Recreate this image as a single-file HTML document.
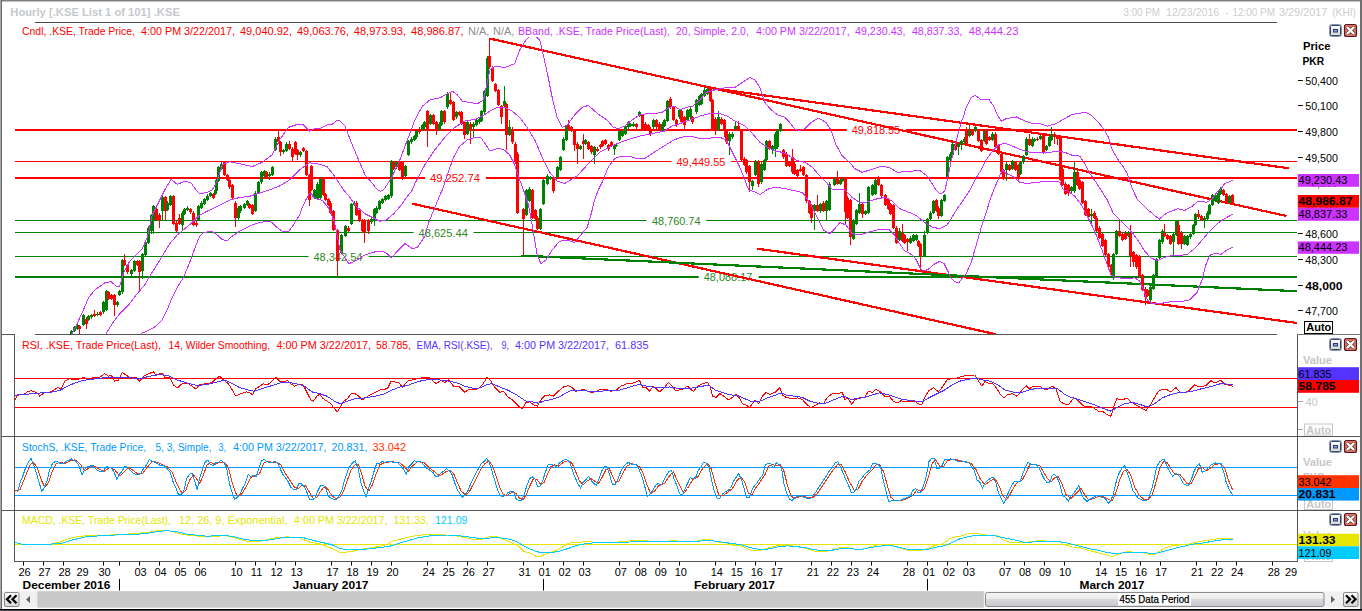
<!DOCTYPE html>
<html><head><meta charset="utf-8"><title>Chart</title>
<style>html,body{margin:0;padding:0;background:#fff;overflow:hidden}svg{display:block}text{font-family:"Liberation Sans", sans-serif;}</style>
</head><body>
<svg width="1362" height="611" viewBox="0 0 1362 611" font-family='"Liberation Sans", sans-serif'>
<rect x="0" y="0" width="1362" height="611" fill="#fff"/>
<defs><clipPath id="cm"><rect x="14.5" y="37" width="1283" height="297"/></clipPath><clipPath id="cr"><rect x="15" y="335" width="1282.5" height="101"/></clipPath><clipPath id="cs"><rect x="15" y="437" width="1282.5" height="73"/></clipPath><clipPath id="cd"><rect x="15" y="511" width="1282.5" height="50"/></clipPath></defs>
<g clip-path="url(#cm)">
<line x1="15" y1="130" x2="846.7" y2="130" stroke="#ff0000" stroke-width="2"/>
<line x1="905.9" y1="130" x2="1297" y2="130" stroke="#ff0000" stroke-width="2"/>
<text x="851.7" y="134.2" fill="#ff0000" font-size="11.5" textLength="48.5" lengthAdjust="spacingAndGlyphs">49,818.55</text>
<line x1="15" y1="161.5" x2="671.5" y2="161.5" stroke="#ff0000" stroke-width="1"/>
<line x1="731.2" y1="161.5" x2="1297" y2="161.5" stroke="#ff0000" stroke-width="1"/>
<text x="676.5" y="165.79999999999998" fill="#ff0000" font-size="11.5" textLength="48.9" lengthAdjust="spacingAndGlyphs">49,449.55</text>
<line x1="15" y1="178" x2="425" y2="178" stroke="#ff0000" stroke-width="2"/>
<line x1="486" y1="178" x2="1297" y2="178" stroke="#ff0000" stroke-width="2"/>
<text x="430" y="182.2" fill="#ff0000" font-size="11.5" textLength="50" lengthAdjust="spacingAndGlyphs">49,252.74</text>
<line x1="15" y1="220.5" x2="646.5" y2="220.5" stroke="#008000" stroke-width="1"/>
<line x1="706.2" y1="220.5" x2="1297" y2="220.5" stroke="#008000" stroke-width="1"/>
<text x="652" y="224.7" fill="#2e8a1e" font-size="11.5" textLength="48.5" lengthAdjust="spacingAndGlyphs">48,760.74</text>
<line x1="15" y1="232.5" x2="413.6" y2="232.5" stroke="#008000" stroke-width="1"/>
<line x1="473.5" y1="232.5" x2="1297" y2="232.5" stroke="#008000" stroke-width="1"/>
<text x="418.6" y="236.7" fill="#2e8a1e" font-size="11.5" textLength="49.2" lengthAdjust="spacingAndGlyphs">48,625.44</text>
<line x1="15" y1="256.5" x2="308.5" y2="256.5" stroke="#008000" stroke-width="1"/>
<line x1="368.7" y1="256.5" x2="1297" y2="256.5" stroke="#008000" stroke-width="1"/>
<text x="313.5" y="260.7" fill="#2e8a1e" font-size="11.5" textLength="49.0" lengthAdjust="spacingAndGlyphs">48,342.54</text>
<line x1="15" y1="277" x2="698.7" y2="277" stroke="#008000" stroke-width="2"/>
<line x1="758.6" y1="277" x2="1297" y2="277" stroke="#008000" stroke-width="2"/>
<text x="703.7" y="281.2" fill="#2e8a1e" font-size="11.5" textLength="48.7" lengthAdjust="spacingAndGlyphs">48,088.17</text>
<line x1="489.5" y1="38.5" x2="1286.5" y2="216.0" stroke="#ff0000" stroke-width="2.2" stroke-linecap="butt" shape-rendering="crispEdges"/>
<line x1="706.2" y1="87.3" x2="1289" y2="168.3" stroke="#ff0000" stroke-width="2.2" stroke-linecap="butt" shape-rendering="crispEdges"/>
<line x1="412.4" y1="203.7" x2="996" y2="334.3" stroke="#ff0000" stroke-width="2.2" stroke-linecap="butt" shape-rendering="crispEdges"/>
<line x1="757.4" y1="248.7" x2="1297" y2="323" stroke="#ff0000" stroke-width="2.2" stroke-linecap="butt" shape-rendering="crispEdges"/>
<line x1="521" y1="255.6" x2="1297" y2="291.2" stroke="#008000" stroke-width="2.2" stroke-linecap="butt" shape-rendering="crispEdges"/>
<rect x="70" y="331.1" width="3" height="2.5" fill="#008000" shape-rendering="crispEdges"/>
<rect x="71" y="329.9" width="1" height="4.9" fill="#008000" shape-rendering="crispEdges"/>
<rect x="73" y="327.1" width="3" height="4.0" fill="#008000" shape-rendering="crispEdges"/>
<rect x="74" y="325.9" width="1" height="6.4" fill="#008000" shape-rendering="crispEdges"/>
<rect x="76" y="324.6" width="3" height="4.0" fill="#008000" shape-rendering="crispEdges"/>
<rect x="77" y="323.4" width="1" height="6.4" fill="#008000" shape-rendering="crispEdges"/>
<rect x="78" y="326.1" width="3" height="2.5" fill="#ff0000" shape-rendering="crispEdges"/>
<rect x="79" y="324.9" width="1" height="8.7" fill="#ff0000" shape-rendering="crispEdges"/>
<rect x="82" y="314.8" width="3" height="10.0" fill="#008000" shape-rendering="crispEdges"/>
<rect x="83" y="313.6" width="1" height="12.4" fill="#008000" shape-rendering="crispEdges"/>
<rect x="85" y="318.6" width="3" height="5.0" fill="#ff0000" shape-rendering="crispEdges"/>
<rect x="86" y="317.4" width="1" height="11.2" fill="#ff0000" shape-rendering="crispEdges"/>
<rect x="87" y="316.1" width="3" height="3.7" fill="#008000" shape-rendering="crispEdges"/>
<rect x="88" y="314.9" width="1" height="6.1" fill="#008000" shape-rendering="crispEdges"/>
<rect x="90" y="314.8" width="3" height="2.5" fill="#008000" shape-rendering="crispEdges"/>
<rect x="91" y="313.6" width="1" height="4.9" fill="#008000" shape-rendering="crispEdges"/>
<rect x="93" y="313.6" width="3" height="2.5" fill="#ff0000" shape-rendering="crispEdges"/>
<rect x="94" y="309.8" width="1" height="7.4" fill="#ff0000" shape-rendering="crispEdges"/>
<rect x="96" y="313.6" width="3" height="1.2" fill="#008000" shape-rendering="crispEdges"/>
<rect x="97" y="312.4" width="1" height="3.6" fill="#008000" shape-rendering="crispEdges"/>
<rect x="99" y="312.3" width="3" height="2.5" fill="#ff0000" shape-rendering="crispEdges"/>
<rect x="100" y="311.1" width="1" height="4.9" fill="#ff0000" shape-rendering="crispEdges"/>
<rect x="102" y="302.4" width="3" height="10.0" fill="#008000" shape-rendering="crispEdges"/>
<rect x="103" y="301.2" width="1" height="12.4" fill="#008000" shape-rendering="crispEdges"/>
<rect x="105" y="291.1" width="3" height="18.7" fill="#008000" shape-rendering="crispEdges"/>
<rect x="106" y="289.9" width="1" height="21.1" fill="#008000" shape-rendering="crispEdges"/>
<rect x="107" y="292.4" width="3" height="6.2" fill="#ff0000" shape-rendering="crispEdges"/>
<rect x="108" y="291.2" width="1" height="8.6" fill="#ff0000" shape-rendering="crispEdges"/>
<rect x="110" y="294.9" width="3" height="3.7" fill="#ff0000" shape-rendering="crispEdges"/>
<rect x="111" y="293.7" width="1" height="6.1" fill="#ff0000" shape-rendering="crispEdges"/>
<rect x="113" y="294.9" width="3" height="10.0" fill="#ff0000" shape-rendering="crispEdges"/>
<rect x="114" y="293.7" width="1" height="22.4" fill="#ff0000" shape-rendering="crispEdges"/>
<rect x="116" y="302.4" width="3" height="2.5" fill="#008000" shape-rendering="crispEdges"/>
<rect x="117" y="301.2" width="1" height="6.2" fill="#008000" shape-rendering="crispEdges"/>
<rect x="118" y="291.1" width="3" height="3.7" fill="#008000" shape-rendering="crispEdges"/>
<rect x="119" y="289.9" width="1" height="6.1" fill="#008000" shape-rendering="crispEdges"/>
<rect x="121" y="259.9" width="3" height="32.5" fill="#008000" shape-rendering="crispEdges"/>
<rect x="122" y="258.7" width="1" height="34.9" fill="#008000" shape-rendering="crispEdges"/>
<rect x="123" y="259.9" width="3" height="5.0" fill="#ff0000" shape-rendering="crispEdges"/>
<rect x="124" y="253.7" width="1" height="12.4" fill="#ff0000" shape-rendering="crispEdges"/>
<rect x="126" y="264.9" width="3" height="7.5" fill="#ff0000" shape-rendering="crispEdges"/>
<rect x="127" y="263.7" width="1" height="9.9" fill="#ff0000" shape-rendering="crispEdges"/>
<rect x="130" y="269.9" width="3" height="3.7" fill="#008000" shape-rendering="crispEdges"/>
<rect x="131" y="268.7" width="1" height="7.4" fill="#008000" shape-rendering="crispEdges"/>
<rect x="133" y="261.2" width="3" height="10.0" fill="#008000" shape-rendering="crispEdges"/>
<rect x="134" y="260.0" width="1" height="12.4" fill="#008000" shape-rendering="crispEdges"/>
<rect x="136" y="261.2" width="3" height="3.5" fill="#ff0000" shape-rendering="crispEdges"/>
<rect x="137" y="260.0" width="1" height="5.9" fill="#ff0000" shape-rendering="crispEdges"/>
<rect x="138" y="261.2" width="3" height="11.2" fill="#ff0000" shape-rendering="crispEdges"/>
<rect x="139" y="260.0" width="1" height="32.4" fill="#ff0000" shape-rendering="crispEdges"/>
<rect x="141" y="253.7" width="3" height="17.5" fill="#008000" shape-rendering="crispEdges"/>
<rect x="142" y="252.5" width="1" height="26.2" fill="#008000" shape-rendering="crispEdges"/>
<rect x="144" y="242.4" width="3" height="12.5" fill="#008000" shape-rendering="crispEdges"/>
<rect x="145" y="241.2" width="1" height="14.9" fill="#008000" shape-rendering="crispEdges"/>
<rect x="147" y="227.5" width="3" height="15.0" fill="#008000" shape-rendering="crispEdges"/>
<rect x="148" y="226.3" width="1" height="17.4" fill="#008000" shape-rendering="crispEdges"/>
<rect x="150" y="215.0" width="3" height="16.2" fill="#008000" shape-rendering="crispEdges"/>
<rect x="151" y="213.8" width="1" height="19.9" fill="#008000" shape-rendering="crispEdges"/>
<rect x="152" y="206.3" width="3" height="13.7" fill="#008000" shape-rendering="crispEdges"/>
<rect x="153" y="205.1" width="1" height="28.7" fill="#008000" shape-rendering="crispEdges"/>
<rect x="155" y="208.7" width="3" height="11.2" fill="#ff0000" shape-rendering="crispEdges"/>
<rect x="156" y="207.5" width="1" height="13.6" fill="#ff0000" shape-rendering="crispEdges"/>
<rect x="158" y="214.7" width="3" height="5.0" fill="#ff0000" shape-rendering="crispEdges"/>
<rect x="159" y="212.5" width="1" height="15.0" fill="#ff0000" shape-rendering="crispEdges"/>
<rect x="161" y="197.0" width="3" height="14.2" fill="#008000" shape-rendering="crispEdges"/>
<rect x="162" y="195.8" width="1" height="25.4" fill="#008000" shape-rendering="crispEdges"/>
<rect x="164" y="197.0" width="3" height="14.2" fill="#ff0000" shape-rendering="crispEdges"/>
<rect x="165" y="195.8" width="1" height="24.2" fill="#ff0000" shape-rendering="crispEdges"/>
<rect x="166" y="202.5" width="3" height="7.5" fill="#008000" shape-rendering="crispEdges"/>
<rect x="167" y="201.3" width="1" height="9.9" fill="#008000" shape-rendering="crispEdges"/>
<rect x="169" y="196.3" width="3" height="8.7" fill="#008000" shape-rendering="crispEdges"/>
<rect x="170" y="194.5" width="1" height="11.7" fill="#008000" shape-rendering="crispEdges"/>
<rect x="172" y="196.3" width="3" height="27.5" fill="#ff0000" shape-rendering="crispEdges"/>
<rect x="173" y="195.1" width="1" height="29.9" fill="#ff0000" shape-rendering="crispEdges"/>
<rect x="175" y="222.5" width="3" height="8.7" fill="#ff0000" shape-rendering="crispEdges"/>
<rect x="176" y="221.3" width="1" height="11.1" fill="#ff0000" shape-rendering="crispEdges"/>
<rect x="178" y="217.5" width="3" height="6.2" fill="#ff0000" shape-rendering="crispEdges"/>
<rect x="179" y="213.7" width="1" height="11.2" fill="#ff0000" shape-rendering="crispEdges"/>
<rect x="181" y="212.5" width="3" height="12.5" fill="#008000" shape-rendering="crispEdges"/>
<rect x="182" y="211.3" width="1" height="19.9" fill="#008000" shape-rendering="crispEdges"/>
<rect x="183" y="208.7" width="3" height="5.0" fill="#008000" shape-rendering="crispEdges"/>
<rect x="184" y="207.5" width="1" height="7.4" fill="#008000" shape-rendering="crispEdges"/>
<rect x="186" y="207.5" width="3" height="2.5" fill="#008000" shape-rendering="crispEdges"/>
<rect x="187" y="205.5" width="1" height="5.7" fill="#008000" shape-rendering="crispEdges"/>
<rect x="189" y="208.7" width="3" height="3.7" fill="#ff0000" shape-rendering="crispEdges"/>
<rect x="190" y="207.5" width="1" height="6.1" fill="#ff0000" shape-rendering="crispEdges"/>
<rect x="192" y="212.5" width="3" height="12.5" fill="#ff0000" shape-rendering="crispEdges"/>
<rect x="193" y="211.3" width="1" height="14.9" fill="#ff0000" shape-rendering="crispEdges"/>
<rect x="195" y="222.5" width="3" height="2.5" fill="#ff0000" shape-rendering="crispEdges"/>
<rect x="196" y="221.3" width="1" height="5.7" fill="#ff0000" shape-rendering="crispEdges"/>
<rect x="197" y="206.3" width="3" height="13.7" fill="#008000" shape-rendering="crispEdges"/>
<rect x="198" y="205.1" width="1" height="16.1" fill="#008000" shape-rendering="crispEdges"/>
<rect x="200" y="202.5" width="3" height="5.0" fill="#008000" shape-rendering="crispEdges"/>
<rect x="201" y="201.3" width="1" height="7.4" fill="#008000" shape-rendering="crispEdges"/>
<rect x="203" y="198.8" width="3" height="5.0" fill="#008000" shape-rendering="crispEdges"/>
<rect x="204" y="197.6" width="1" height="7.4" fill="#008000" shape-rendering="crispEdges"/>
<rect x="206" y="195.5" width="3" height="4.5" fill="#008000" shape-rendering="crispEdges"/>
<rect x="207" y="194.3" width="1" height="6.9" fill="#008000" shape-rendering="crispEdges"/>
<rect x="209" y="193.0" width="3" height="3.2" fill="#008000" shape-rendering="crispEdges"/>
<rect x="210" y="191.8" width="1" height="5.6" fill="#008000" shape-rendering="crispEdges"/>
<rect x="212" y="193.8" width="3" height="3.7" fill="#ff0000" shape-rendering="crispEdges"/>
<rect x="213" y="192.6" width="1" height="6.1" fill="#ff0000" shape-rendering="crispEdges"/>
<rect x="214" y="190.0" width="3" height="3.7" fill="#008000" shape-rendering="crispEdges"/>
<rect x="215" y="188.8" width="1" height="6.1" fill="#008000" shape-rendering="crispEdges"/>
<rect x="215" y="179.8" width="3" height="11.2" fill="#008000" shape-rendering="crispEdges"/>
<rect x="216" y="178.6" width="1" height="13.6" fill="#008000" shape-rendering="crispEdges"/>
<rect x="217" y="167.3" width="3" height="13.7" fill="#008000" shape-rendering="crispEdges"/>
<rect x="218" y="166.1" width="1" height="16.1" fill="#008000" shape-rendering="crispEdges"/>
<rect x="220" y="163.6" width="3" height="5.0" fill="#008000" shape-rendering="crispEdges"/>
<rect x="221" y="162.4" width="1" height="7.4" fill="#008000" shape-rendering="crispEdges"/>
<rect x="223" y="162.3" width="3" height="12.5" fill="#ff0000" shape-rendering="crispEdges"/>
<rect x="224" y="161.1" width="1" height="14.9" fill="#ff0000" shape-rendering="crispEdges"/>
<rect x="226" y="174.8" width="3" height="5.0" fill="#ff0000" shape-rendering="crispEdges"/>
<rect x="227" y="173.6" width="1" height="7.4" fill="#ff0000" shape-rendering="crispEdges"/>
<rect x="228" y="179.8" width="3" height="7.5" fill="#ff0000" shape-rendering="crispEdges"/>
<rect x="229" y="178.6" width="1" height="9.9" fill="#ff0000" shape-rendering="crispEdges"/>
<rect x="231" y="184.8" width="3" height="12.7" fill="#ff0000" shape-rendering="crispEdges"/>
<rect x="232" y="183.6" width="1" height="15.1" fill="#ff0000" shape-rendering="crispEdges"/>
<rect x="234" y="202.5" width="3" height="15.0" fill="#ff0000" shape-rendering="crispEdges"/>
<rect x="235" y="201.3" width="1" height="25.7" fill="#ff0000" shape-rendering="crispEdges"/>
<rect x="237" y="207.5" width="3" height="10.0" fill="#008000" shape-rendering="crispEdges"/>
<rect x="238" y="206.3" width="1" height="14.9" fill="#008000" shape-rendering="crispEdges"/>
<rect x="239" y="206.3" width="3" height="5.0" fill="#008000" shape-rendering="crispEdges"/>
<rect x="240" y="205.1" width="1" height="7.4" fill="#008000" shape-rendering="crispEdges"/>
<rect x="243" y="203.8" width="3" height="3.7" fill="#008000" shape-rendering="crispEdges"/>
<rect x="244" y="202.6" width="1" height="6.1" fill="#008000" shape-rendering="crispEdges"/>
<rect x="246" y="201.3" width="3" height="3.7" fill="#008000" shape-rendering="crispEdges"/>
<rect x="247" y="200.1" width="1" height="6.1" fill="#008000" shape-rendering="crispEdges"/>
<rect x="248" y="203.8" width="3" height="3.7" fill="#ff0000" shape-rendering="crispEdges"/>
<rect x="249" y="202.6" width="1" height="6.1" fill="#ff0000" shape-rendering="crispEdges"/>
<rect x="251" y="205.0" width="3" height="8.7" fill="#ff0000" shape-rendering="crispEdges"/>
<rect x="252" y="203.8" width="1" height="11.1" fill="#ff0000" shape-rendering="crispEdges"/>
<rect x="254" y="192.5" width="3" height="18.7" fill="#008000" shape-rendering="crispEdges"/>
<rect x="255" y="191.3" width="1" height="21.1" fill="#008000" shape-rendering="crispEdges"/>
<rect x="257" y="182.3" width="3" height="10.2" fill="#008000" shape-rendering="crispEdges"/>
<rect x="258" y="181.1" width="1" height="12.6" fill="#008000" shape-rendering="crispEdges"/>
<rect x="260" y="172.3" width="3" height="10.0" fill="#008000" shape-rendering="crispEdges"/>
<rect x="261" y="171.1" width="1" height="12.4" fill="#008000" shape-rendering="crispEdges"/>
<rect x="263" y="171.1" width="3" height="5.0" fill="#008000" shape-rendering="crispEdges"/>
<rect x="264" y="169.9" width="1" height="7.4" fill="#008000" shape-rendering="crispEdges"/>
<rect x="265" y="172.3" width="3" height="5.0" fill="#ff0000" shape-rendering="crispEdges"/>
<rect x="266" y="171.1" width="1" height="7.4" fill="#ff0000" shape-rendering="crispEdges"/>
<rect x="268" y="173.5" width="3" height="2.5" fill="#008000" shape-rendering="crispEdges"/>
<rect x="269" y="172.3" width="1" height="7.4" fill="#008000" shape-rendering="crispEdges"/>
<rect x="271" y="166.8" width="3" height="8.0" fill="#008000" shape-rendering="crispEdges"/>
<rect x="272" y="165.6" width="1" height="10.4" fill="#008000" shape-rendering="crispEdges"/>
<rect x="274" y="138.6" width="3" height="11.2" fill="#008000" shape-rendering="crispEdges"/>
<rect x="275" y="137.4" width="1" height="13.6" fill="#008000" shape-rendering="crispEdges"/>
<rect x="277" y="137.4" width="3" height="5.0" fill="#ff0000" shape-rendering="crispEdges"/>
<rect x="278" y="129.9" width="1" height="13.7" fill="#ff0000" shape-rendering="crispEdges"/>
<rect x="279" y="142.3" width="3" height="10.0" fill="#ff0000" shape-rendering="crispEdges"/>
<rect x="280" y="141.1" width="1" height="14.9" fill="#ff0000" shape-rendering="crispEdges"/>
<rect x="282" y="149.8" width="3" height="2.5" fill="#008000" shape-rendering="crispEdges"/>
<rect x="283" y="148.6" width="1" height="5.7" fill="#008000" shape-rendering="crispEdges"/>
<rect x="285" y="143.6" width="3" height="7.5" fill="#008000" shape-rendering="crispEdges"/>
<rect x="286" y="142.4" width="1" height="9.9" fill="#008000" shape-rendering="crispEdges"/>
<rect x="288" y="143.6" width="3" height="5.0" fill="#ff0000" shape-rendering="crispEdges"/>
<rect x="289" y="141.1" width="1" height="8.7" fill="#ff0000" shape-rendering="crispEdges"/>
<rect x="291" y="148.6" width="3" height="8.7" fill="#ff0000" shape-rendering="crispEdges"/>
<rect x="292" y="147.4" width="1" height="13.7" fill="#ff0000" shape-rendering="crispEdges"/>
<rect x="294" y="142.3" width="3" height="11.2" fill="#ff0000" shape-rendering="crispEdges"/>
<rect x="295" y="141.1" width="1" height="13.6" fill="#ff0000" shape-rendering="crispEdges"/>
<rect x="296" y="149.8" width="3" height="5.0" fill="#ff0000" shape-rendering="crispEdges"/>
<rect x="297" y="148.6" width="1" height="11.2" fill="#ff0000" shape-rendering="crispEdges"/>
<rect x="299" y="152.3" width="3" height="2.5" fill="#008000" shape-rendering="crispEdges"/>
<rect x="300" y="151.1" width="1" height="6.2" fill="#008000" shape-rendering="crispEdges"/>
<rect x="302" y="147.8" width="3" height="3.2" fill="#ff0000" shape-rendering="crispEdges"/>
<rect x="303" y="146.6" width="1" height="5.6" fill="#ff0000" shape-rendering="crispEdges"/>
<rect x="305" y="151.1" width="3" height="23.7" fill="#ff0000" shape-rendering="crispEdges"/>
<rect x="306" y="149.9" width="1" height="26.1" fill="#ff0000" shape-rendering="crispEdges"/>
<rect x="308" y="174.8" width="3" height="25.2" fill="#ff0000" shape-rendering="crispEdges"/>
<rect x="309" y="173.6" width="1" height="32.7" fill="#ff0000" shape-rendering="crispEdges"/>
<rect x="310" y="166.1" width="3" height="23.7" fill="#ff0000" shape-rendering="crispEdges"/>
<rect x="311" y="164.9" width="1" height="26.1" fill="#ff0000" shape-rendering="crispEdges"/>
<rect x="313" y="190.0" width="3" height="7.5" fill="#008000" shape-rendering="crispEdges"/>
<rect x="314" y="188.8" width="1" height="9.9" fill="#008000" shape-rendering="crispEdges"/>
<rect x="316" y="183.5" width="3" height="15.2" fill="#008000" shape-rendering="crispEdges"/>
<rect x="317" y="182.3" width="1" height="17.6" fill="#008000" shape-rendering="crispEdges"/>
<rect x="319" y="178.5" width="3" height="19.0" fill="#008000" shape-rendering="crispEdges"/>
<rect x="320" y="177.3" width="1" height="21.4" fill="#008000" shape-rendering="crispEdges"/>
<rect x="322" y="178.5" width="3" height="16.5" fill="#ff0000" shape-rendering="crispEdges"/>
<rect x="323" y="177.3" width="1" height="18.9" fill="#ff0000" shape-rendering="crispEdges"/>
<rect x="324" y="193.8" width="3" height="6.2" fill="#ff0000" shape-rendering="crispEdges"/>
<rect x="325" y="192.6" width="1" height="8.6" fill="#ff0000" shape-rendering="crispEdges"/>
<rect x="327" y="198.8" width="3" height="6.2" fill="#ff0000" shape-rendering="crispEdges"/>
<rect x="328" y="197.6" width="1" height="8.6" fill="#ff0000" shape-rendering="crispEdges"/>
<rect x="329" y="202.5" width="3" height="10.0" fill="#ff0000" shape-rendering="crispEdges"/>
<rect x="330" y="201.3" width="1" height="12.4" fill="#ff0000" shape-rendering="crispEdges"/>
<rect x="332" y="211.2" width="3" height="18.7" fill="#ff0000" shape-rendering="crispEdges"/>
<rect x="333" y="210.0" width="1" height="21.1" fill="#ff0000" shape-rendering="crispEdges"/>
<rect x="336" y="230.0" width="3" height="31.2" fill="#ff0000" shape-rendering="crispEdges"/>
<rect x="337" y="228.8" width="1" height="47.4" fill="#ff0000" shape-rendering="crispEdges"/>
<rect x="340" y="235.0" width="3" height="17.5" fill="#008000" shape-rendering="crispEdges"/>
<rect x="341" y="233.8" width="1" height="19.9" fill="#008000" shape-rendering="crispEdges"/>
<rect x="344" y="226.2" width="3" height="10.0" fill="#008000" shape-rendering="crispEdges"/>
<rect x="345" y="225.0" width="1" height="12.4" fill="#008000" shape-rendering="crispEdges"/>
<rect x="347" y="227.5" width="3" height="3.7" fill="#ff0000" shape-rendering="crispEdges"/>
<rect x="348" y="226.3" width="1" height="6.1" fill="#ff0000" shape-rendering="crispEdges"/>
<rect x="350" y="203.8" width="3" height="20.0" fill="#008000" shape-rendering="crispEdges"/>
<rect x="351" y="202.6" width="1" height="22.4" fill="#008000" shape-rendering="crispEdges"/>
<rect x="353" y="202.5" width="3" height="2.5" fill="#008000" shape-rendering="crispEdges"/>
<rect x="354" y="201.3" width="1" height="4.9" fill="#008000" shape-rendering="crispEdges"/>
<rect x="355" y="202.5" width="3" height="12.5" fill="#ff0000" shape-rendering="crispEdges"/>
<rect x="356" y="201.3" width="1" height="14.9" fill="#ff0000" shape-rendering="crispEdges"/>
<rect x="358" y="210.0" width="3" height="11.2" fill="#ff0000" shape-rendering="crispEdges"/>
<rect x="359" y="208.8" width="1" height="13.6" fill="#ff0000" shape-rendering="crispEdges"/>
<rect x="361" y="220.0" width="3" height="11.2" fill="#ff0000" shape-rendering="crispEdges"/>
<rect x="362" y="218.8" width="1" height="13.6" fill="#ff0000" shape-rendering="crispEdges"/>
<rect x="363" y="220.0" width="3" height="12.5" fill="#ff0000" shape-rendering="crispEdges"/>
<rect x="364" y="218.8" width="1" height="23.7" fill="#ff0000" shape-rendering="crispEdges"/>
<rect x="367" y="220.0" width="3" height="11.2" fill="#ff0000" shape-rendering="crispEdges"/>
<rect x="368" y="218.8" width="1" height="14.9" fill="#ff0000" shape-rendering="crispEdges"/>
<rect x="370" y="218.7" width="3" height="3.7" fill="#008000" shape-rendering="crispEdges"/>
<rect x="371" y="217.5" width="1" height="6.1" fill="#008000" shape-rendering="crispEdges"/>
<rect x="373" y="208.7" width="3" height="12.5" fill="#008000" shape-rendering="crispEdges"/>
<rect x="374" y="207.5" width="1" height="18.7" fill="#008000" shape-rendering="crispEdges"/>
<rect x="375" y="207.5" width="3" height="5.0" fill="#008000" shape-rendering="crispEdges"/>
<rect x="376" y="206.3" width="1" height="7.4" fill="#008000" shape-rendering="crispEdges"/>
<rect x="378" y="201.3" width="3" height="7.5" fill="#008000" shape-rendering="crispEdges"/>
<rect x="379" y="200.1" width="1" height="9.9" fill="#008000" shape-rendering="crispEdges"/>
<rect x="381" y="198.8" width="3" height="3.7" fill="#008000" shape-rendering="crispEdges"/>
<rect x="382" y="197.6" width="1" height="6.1" fill="#008000" shape-rendering="crispEdges"/>
<rect x="384" y="196.3" width="3" height="3.7" fill="#008000" shape-rendering="crispEdges"/>
<rect x="385" y="195.1" width="1" height="6.1" fill="#008000" shape-rendering="crispEdges"/>
<rect x="387" y="195.0" width="3" height="3.7" fill="#008000" shape-rendering="crispEdges"/>
<rect x="388" y="193.8" width="1" height="6.1" fill="#008000" shape-rendering="crispEdges"/>
<rect x="390" y="161.1" width="3" height="35.2" fill="#008000" shape-rendering="crispEdges"/>
<rect x="391" y="159.9" width="1" height="37.6" fill="#008000" shape-rendering="crispEdges"/>
<rect x="392" y="161.8" width="3" height="6.7" fill="#ff0000" shape-rendering="crispEdges"/>
<rect x="393" y="160.6" width="1" height="9.1" fill="#ff0000" shape-rendering="crispEdges"/>
<rect x="395" y="162.3" width="3" height="5.0" fill="#008000" shape-rendering="crispEdges"/>
<rect x="396" y="161.1" width="1" height="7.4" fill="#008000" shape-rendering="crispEdges"/>
<rect x="398" y="162.3" width="3" height="7.5" fill="#ff0000" shape-rendering="crispEdges"/>
<rect x="399" y="161.1" width="1" height="9.9" fill="#ff0000" shape-rendering="crispEdges"/>
<rect x="401" y="161.8" width="3" height="15.5" fill="#ff0000" shape-rendering="crispEdges"/>
<rect x="402" y="160.6" width="1" height="19.2" fill="#ff0000" shape-rendering="crispEdges"/>
<rect x="404" y="166.1" width="3" height="10.0" fill="#008000" shape-rendering="crispEdges"/>
<rect x="405" y="164.9" width="1" height="12.4" fill="#008000" shape-rendering="crispEdges"/>
<rect x="407" y="141.1" width="3" height="13.7" fill="#008000" shape-rendering="crispEdges"/>
<rect x="408" y="139.9" width="1" height="16.1" fill="#008000" shape-rendering="crispEdges"/>
<rect x="410" y="138.6" width="3" height="3.7" fill="#008000" shape-rendering="crispEdges"/>
<rect x="411" y="137.4" width="1" height="6.1" fill="#008000" shape-rendering="crispEdges"/>
<rect x="413" y="136.1" width="3" height="3.7" fill="#008000" shape-rendering="crispEdges"/>
<rect x="414" y="134.9" width="1" height="6.1" fill="#008000" shape-rendering="crispEdges"/>
<rect x="415" y="131.1" width="3" height="6.2" fill="#008000" shape-rendering="crispEdges"/>
<rect x="416" y="129.9" width="1" height="8.6" fill="#008000" shape-rendering="crispEdges"/>
<rect x="418" y="128.6" width="3" height="3.7" fill="#ff0000" shape-rendering="crispEdges"/>
<rect x="419" y="127.4" width="1" height="6.1" fill="#ff0000" shape-rendering="crispEdges"/>
<rect x="421" y="124.9" width="3" height="5.0" fill="#008000" shape-rendering="crispEdges"/>
<rect x="422" y="123.7" width="1" height="7.4" fill="#008000" shape-rendering="crispEdges"/>
<rect x="423" y="122.4" width="3" height="5.0" fill="#008000" shape-rendering="crispEdges"/>
<rect x="424" y="121.2" width="1" height="7.4" fill="#008000" shape-rendering="crispEdges"/>
<rect x="426" y="111.1" width="3" height="17.5" fill="#ff0000" shape-rendering="crispEdges"/>
<rect x="427" y="109.9" width="1" height="37.4" fill="#ff0000" shape-rendering="crispEdges"/>
<rect x="429" y="114.9" width="3" height="8.7" fill="#008000" shape-rendering="crispEdges"/>
<rect x="430" y="113.7" width="1" height="11.1" fill="#008000" shape-rendering="crispEdges"/>
<rect x="432" y="114.9" width="3" height="8.7" fill="#ff0000" shape-rendering="crispEdges"/>
<rect x="433" y="113.7" width="1" height="11.1" fill="#ff0000" shape-rendering="crispEdges"/>
<rect x="435" y="122.4" width="3" height="8.7" fill="#ff0000" shape-rendering="crispEdges"/>
<rect x="436" y="121.2" width="1" height="13.7" fill="#ff0000" shape-rendering="crispEdges"/>
<rect x="438" y="123.6" width="3" height="6.2" fill="#008000" shape-rendering="crispEdges"/>
<rect x="439" y="122.4" width="1" height="8.6" fill="#008000" shape-rendering="crispEdges"/>
<rect x="440" y="111.1" width="3" height="13.7" fill="#008000" shape-rendering="crispEdges"/>
<rect x="441" y="109.9" width="1" height="16.1" fill="#008000" shape-rendering="crispEdges"/>
<rect x="443" y="111.1" width="3" height="11.2" fill="#ff0000" shape-rendering="crispEdges"/>
<rect x="444" y="109.9" width="1" height="13.6" fill="#ff0000" shape-rendering="crispEdges"/>
<rect x="446" y="93.7" width="3" height="13.7" fill="#008000" shape-rendering="crispEdges"/>
<rect x="447" y="92.4" width="1" height="16.2" fill="#008000" shape-rendering="crispEdges"/>
<rect x="449" y="99.9" width="3" height="3.7" fill="#ff0000" shape-rendering="crispEdges"/>
<rect x="450" y="92.4" width="1" height="12.4" fill="#ff0000" shape-rendering="crispEdges"/>
<rect x="452" y="102.4" width="3" height="17.5" fill="#ff0000" shape-rendering="crispEdges"/>
<rect x="453" y="101.2" width="1" height="19.9" fill="#ff0000" shape-rendering="crispEdges"/>
<rect x="455" y="112.4" width="3" height="5.0" fill="#008000" shape-rendering="crispEdges"/>
<rect x="456" y="111.2" width="1" height="7.4" fill="#008000" shape-rendering="crispEdges"/>
<rect x="458" y="112.4" width="3" height="2.5" fill="#ff0000" shape-rendering="crispEdges"/>
<rect x="459" y="111.2" width="1" height="4.9" fill="#ff0000" shape-rendering="crispEdges"/>
<rect x="460" y="112.4" width="3" height="11.2" fill="#ff0000" shape-rendering="crispEdges"/>
<rect x="461" y="111.2" width="1" height="13.6" fill="#ff0000" shape-rendering="crispEdges"/>
<rect x="463" y="122.4" width="3" height="12.5" fill="#ff0000" shape-rendering="crispEdges"/>
<rect x="464" y="121.2" width="1" height="17.4" fill="#ff0000" shape-rendering="crispEdges"/>
<rect x="466" y="122.4" width="3" height="11.2" fill="#008000" shape-rendering="crispEdges"/>
<rect x="467" y="121.2" width="1" height="13.6" fill="#008000" shape-rendering="crispEdges"/>
<rect x="469" y="123.6" width="3" height="7.5" fill="#ff0000" shape-rendering="crispEdges"/>
<rect x="470" y="122.4" width="1" height="21.2" fill="#ff0000" shape-rendering="crispEdges"/>
<rect x="472" y="123.6" width="3" height="3.7" fill="#008000" shape-rendering="crispEdges"/>
<rect x="473" y="122.4" width="1" height="14.9" fill="#008000" shape-rendering="crispEdges"/>
<rect x="475" y="119.9" width="3" height="5.0" fill="#008000" shape-rendering="crispEdges"/>
<rect x="476" y="118.7" width="1" height="7.4" fill="#008000" shape-rendering="crispEdges"/>
<rect x="478" y="119.4" width="3" height="3.0" fill="#008000" shape-rendering="crispEdges"/>
<rect x="479" y="118.2" width="1" height="5.4" fill="#008000" shape-rendering="crispEdges"/>
<rect x="480" y="111.1" width="3" height="10.0" fill="#008000" shape-rendering="crispEdges"/>
<rect x="481" y="109.9" width="1" height="12.4" fill="#008000" shape-rendering="crispEdges"/>
<rect x="483" y="91.2" width="3" height="21.2" fill="#008000" shape-rendering="crispEdges"/>
<rect x="484" y="90.0" width="1" height="23.6" fill="#008000" shape-rendering="crispEdges"/>
<rect x="486" y="57.5" width="3" height="38.7" fill="#008000" shape-rendering="crispEdges"/>
<rect x="487" y="56.3" width="1" height="41.1" fill="#008000" shape-rendering="crispEdges"/>
<rect x="488" y="56.2" width="3" height="11.2" fill="#ff0000" shape-rendering="crispEdges"/>
<rect x="489" y="38.0" width="1" height="30.7" fill="#ff0000" shape-rendering="crispEdges"/>
<rect x="491" y="67.5" width="3" height="13.7" fill="#ff0000" shape-rendering="crispEdges"/>
<rect x="492" y="66.3" width="1" height="16.1" fill="#ff0000" shape-rendering="crispEdges"/>
<rect x="494" y="83.7" width="3" height="7.5" fill="#ff0000" shape-rendering="crispEdges"/>
<rect x="495" y="82.5" width="1" height="9.9" fill="#ff0000" shape-rendering="crispEdges"/>
<rect x="497" y="89.9" width="3" height="15.0" fill="#ff0000" shape-rendering="crispEdges"/>
<rect x="498" y="88.7" width="1" height="17.4" fill="#ff0000" shape-rendering="crispEdges"/>
<rect x="500" y="106.2" width="3" height="11.2" fill="#ff0000" shape-rendering="crispEdges"/>
<rect x="501" y="105.0" width="1" height="18.7" fill="#ff0000" shape-rendering="crispEdges"/>
<rect x="503" y="101.2" width="3" height="5.0" fill="#008000" shape-rendering="crispEdges"/>
<rect x="504" y="86.2" width="1" height="21.2" fill="#008000" shape-rendering="crispEdges"/>
<rect x="505" y="103.7" width="3" height="31.2" fill="#ff0000" shape-rendering="crispEdges"/>
<rect x="506" y="102.5" width="1" height="47.4" fill="#ff0000" shape-rendering="crispEdges"/>
<rect x="508" y="127.4" width="3" height="7.5" fill="#008000" shape-rendering="crispEdges"/>
<rect x="509" y="119.9" width="1" height="16.2" fill="#008000" shape-rendering="crispEdges"/>
<rect x="511" y="128.6" width="3" height="13.7" fill="#ff0000" shape-rendering="crispEdges"/>
<rect x="512" y="127.4" width="1" height="16.1" fill="#ff0000" shape-rendering="crispEdges"/>
<rect x="514" y="143.6" width="3" height="18.7" fill="#ff0000" shape-rendering="crispEdges"/>
<rect x="515" y="142.4" width="1" height="21.1" fill="#ff0000" shape-rendering="crispEdges"/>
<rect x="516" y="153.6" width="3" height="58.9" fill="#ff0000" shape-rendering="crispEdges"/>
<rect x="517" y="152.4" width="1" height="61.3" fill="#ff0000" shape-rendering="crispEdges"/>
<rect x="522" y="208.7" width="3" height="10.0" fill="#ff0000" shape-rendering="crispEdges"/>
<rect x="523" y="207.5" width="1" height="47.9" fill="#ff0000" shape-rendering="crispEdges"/>
<rect x="525" y="190.0" width="3" height="25.0" fill="#008000" shape-rendering="crispEdges"/>
<rect x="526" y="188.8" width="1" height="27.4" fill="#008000" shape-rendering="crispEdges"/>
<rect x="528" y="188.5" width="3" height="12.7" fill="#008000" shape-rendering="crispEdges"/>
<rect x="529" y="187.3" width="1" height="15.1" fill="#008000" shape-rendering="crispEdges"/>
<rect x="531" y="190.0" width="3" height="27.5" fill="#ff0000" shape-rendering="crispEdges"/>
<rect x="532" y="188.8" width="1" height="29.9" fill="#ff0000" shape-rendering="crispEdges"/>
<rect x="534" y="210.0" width="3" height="8.7" fill="#ff0000" shape-rendering="crispEdges"/>
<rect x="535" y="208.8" width="1" height="11.1" fill="#ff0000" shape-rendering="crispEdges"/>
<rect x="536" y="217.5" width="3" height="11.2" fill="#ff0000" shape-rendering="crispEdges"/>
<rect x="537" y="216.3" width="1" height="13.6" fill="#ff0000" shape-rendering="crispEdges"/>
<rect x="539" y="208.7" width="3" height="20.0" fill="#008000" shape-rendering="crispEdges"/>
<rect x="540" y="207.5" width="1" height="22.4" fill="#008000" shape-rendering="crispEdges"/>
<rect x="542" y="179.8" width="3" height="24.0" fill="#008000" shape-rendering="crispEdges"/>
<rect x="543" y="178.6" width="1" height="26.4" fill="#008000" shape-rendering="crispEdges"/>
<rect x="546" y="176.0" width="3" height="7.5" fill="#008000" shape-rendering="crispEdges"/>
<rect x="547" y="173.5" width="1" height="11.2" fill="#008000" shape-rendering="crispEdges"/>
<rect x="549" y="176.8" width="3" height="2.0" fill="#008000" shape-rendering="crispEdges"/>
<rect x="550" y="175.6" width="1" height="4.4" fill="#008000" shape-rendering="crispEdges"/>
<rect x="552" y="177.3" width="3" height="14.0" fill="#ff0000" shape-rendering="crispEdges"/>
<rect x="553" y="176.1" width="1" height="16.4" fill="#ff0000" shape-rendering="crispEdges"/>
<rect x="556" y="167.3" width="3" height="10.0" fill="#008000" shape-rendering="crispEdges"/>
<rect x="557" y="166.1" width="1" height="12.4" fill="#008000" shape-rendering="crispEdges"/>
<rect x="559" y="157.3" width="3" height="12.5" fill="#008000" shape-rendering="crispEdges"/>
<rect x="560" y="156.1" width="1" height="14.9" fill="#008000" shape-rendering="crispEdges"/>
<rect x="562" y="138.6" width="3" height="11.2" fill="#008000" shape-rendering="crispEdges"/>
<rect x="563" y="137.4" width="1" height="13.6" fill="#008000" shape-rendering="crispEdges"/>
<rect x="565" y="126.1" width="3" height="13.7" fill="#008000" shape-rendering="crispEdges"/>
<rect x="566" y="124.9" width="1" height="16.1" fill="#008000" shape-rendering="crispEdges"/>
<rect x="567" y="124.9" width="3" height="3.7" fill="#ff0000" shape-rendering="crispEdges"/>
<rect x="568" y="119.9" width="1" height="9.9" fill="#ff0000" shape-rendering="crispEdges"/>
<rect x="570" y="127.4" width="3" height="3.7" fill="#ff0000" shape-rendering="crispEdges"/>
<rect x="571" y="126.2" width="1" height="6.1" fill="#ff0000" shape-rendering="crispEdges"/>
<rect x="573" y="129.9" width="3" height="15.0" fill="#ff0000" shape-rendering="crispEdges"/>
<rect x="574" y="128.7" width="1" height="22.4" fill="#ff0000" shape-rendering="crispEdges"/>
<rect x="576" y="143.6" width="3" height="5.0" fill="#ff0000" shape-rendering="crispEdges"/>
<rect x="577" y="142.4" width="1" height="21.2" fill="#ff0000" shape-rendering="crispEdges"/>
<rect x="579" y="146.1" width="3" height="2.5" fill="#008000" shape-rendering="crispEdges"/>
<rect x="580" y="144.9" width="1" height="4.9" fill="#008000" shape-rendering="crispEdges"/>
<rect x="582" y="141.1" width="3" height="2.5" fill="#ff0000" shape-rendering="crispEdges"/>
<rect x="583" y="133.6" width="1" height="25.0" fill="#ff0000" shape-rendering="crispEdges"/>
<rect x="584" y="139.9" width="3" height="3.7" fill="#008000" shape-rendering="crispEdges"/>
<rect x="585" y="138.7" width="1" height="6.1" fill="#008000" shape-rendering="crispEdges"/>
<rect x="587" y="142.3" width="3" height="6.2" fill="#ff0000" shape-rendering="crispEdges"/>
<rect x="588" y="141.1" width="1" height="8.6" fill="#ff0000" shape-rendering="crispEdges"/>
<rect x="590" y="146.1" width="3" height="6.2" fill="#ff0000" shape-rendering="crispEdges"/>
<rect x="591" y="144.9" width="1" height="8.6" fill="#ff0000" shape-rendering="crispEdges"/>
<rect x="593" y="147.3" width="3" height="7.5" fill="#008000" shape-rendering="crispEdges"/>
<rect x="594" y="146.1" width="1" height="17.4" fill="#008000" shape-rendering="crispEdges"/>
<rect x="596" y="148.6" width="3" height="2.5" fill="#ff0000" shape-rendering="crispEdges"/>
<rect x="597" y="147.4" width="1" height="4.9" fill="#ff0000" shape-rendering="crispEdges"/>
<rect x="599" y="144.8" width="3" height="2.5" fill="#ff0000" shape-rendering="crispEdges"/>
<rect x="600" y="143.6" width="1" height="4.9" fill="#ff0000" shape-rendering="crispEdges"/>
<rect x="601" y="141.1" width="3" height="5.0" fill="#ff0000" shape-rendering="crispEdges"/>
<rect x="602" y="139.9" width="1" height="7.4" fill="#ff0000" shape-rendering="crispEdges"/>
<rect x="604" y="139.9" width="3" height="3.7" fill="#ff0000" shape-rendering="crispEdges"/>
<rect x="605" y="138.7" width="1" height="6.1" fill="#ff0000" shape-rendering="crispEdges"/>
<rect x="607" y="144.8" width="3" height="3.7" fill="#ff0000" shape-rendering="crispEdges"/>
<rect x="608" y="143.6" width="1" height="7.4" fill="#ff0000" shape-rendering="crispEdges"/>
<rect x="610" y="142.3" width="3" height="3.7" fill="#ff0000" shape-rendering="crispEdges"/>
<rect x="611" y="141.1" width="1" height="6.1" fill="#ff0000" shape-rendering="crispEdges"/>
<rect x="613" y="144.8" width="3" height="3.7" fill="#008000" shape-rendering="crispEdges"/>
<rect x="614" y="143.6" width="1" height="11.2" fill="#008000" shape-rendering="crispEdges"/>
<rect x="615" y="144.8" width="3" height="1.2" fill="#008000" shape-rendering="crispEdges"/>
<rect x="616" y="143.6" width="1" height="3.6" fill="#008000" shape-rendering="crispEdges"/>
<rect x="618" y="131.1" width="3" height="8.7" fill="#008000" shape-rendering="crispEdges"/>
<rect x="619" y="129.9" width="1" height="11.1" fill="#008000" shape-rendering="crispEdges"/>
<rect x="621" y="131.1" width="3" height="5.0" fill="#008000" shape-rendering="crispEdges"/>
<rect x="622" y="129.9" width="1" height="7.4" fill="#008000" shape-rendering="crispEdges"/>
<rect x="624" y="126.1" width="3" height="7.5" fill="#008000" shape-rendering="crispEdges"/>
<rect x="625" y="124.9" width="1" height="9.9" fill="#008000" shape-rendering="crispEdges"/>
<rect x="627" y="122.4" width="3" height="5.0" fill="#008000" shape-rendering="crispEdges"/>
<rect x="628" y="121.2" width="1" height="7.4" fill="#008000" shape-rendering="crispEdges"/>
<rect x="629" y="124.4" width="3" height="1.7" fill="#008000" shape-rendering="crispEdges"/>
<rect x="630" y="123.2" width="1" height="4.1" fill="#008000" shape-rendering="crispEdges"/>
<rect x="632" y="123.6" width="3" height="2.5" fill="#008000" shape-rendering="crispEdges"/>
<rect x="633" y="122.4" width="1" height="4.9" fill="#008000" shape-rendering="crispEdges"/>
<rect x="635" y="124.4" width="3" height="3.0" fill="#ff0000" shape-rendering="crispEdges"/>
<rect x="636" y="123.2" width="1" height="5.4" fill="#ff0000" shape-rendering="crispEdges"/>
<rect x="638" y="112.4" width="3" height="3.7" fill="#008000" shape-rendering="crispEdges"/>
<rect x="639" y="111.2" width="1" height="6.1" fill="#008000" shape-rendering="crispEdges"/>
<rect x="641" y="114.9" width="3" height="13.7" fill="#ff0000" shape-rendering="crispEdges"/>
<rect x="642" y="113.7" width="1" height="16.1" fill="#ff0000" shape-rendering="crispEdges"/>
<rect x="644" y="123.6" width="3" height="5.0" fill="#ff0000" shape-rendering="crispEdges"/>
<rect x="645" y="122.4" width="1" height="7.4" fill="#ff0000" shape-rendering="crispEdges"/>
<rect x="647" y="124.9" width="3" height="5.0" fill="#ff0000" shape-rendering="crispEdges"/>
<rect x="648" y="123.7" width="1" height="7.4" fill="#ff0000" shape-rendering="crispEdges"/>
<rect x="649" y="128.6" width="3" height="5.0" fill="#ff0000" shape-rendering="crispEdges"/>
<rect x="650" y="127.4" width="1" height="8.7" fill="#ff0000" shape-rendering="crispEdges"/>
<rect x="652" y="119.9" width="3" height="7.5" fill="#008000" shape-rendering="crispEdges"/>
<rect x="653" y="118.7" width="1" height="9.9" fill="#008000" shape-rendering="crispEdges"/>
<rect x="655" y="119.9" width="3" height="7.5" fill="#ff0000" shape-rendering="crispEdges"/>
<rect x="656" y="118.7" width="1" height="9.9" fill="#ff0000" shape-rendering="crispEdges"/>
<rect x="658" y="123.6" width="3" height="6.2" fill="#ff0000" shape-rendering="crispEdges"/>
<rect x="659" y="122.4" width="1" height="8.6" fill="#ff0000" shape-rendering="crispEdges"/>
<rect x="661" y="123.6" width="3" height="7.5" fill="#008000" shape-rendering="crispEdges"/>
<rect x="662" y="122.4" width="1" height="9.9" fill="#008000" shape-rendering="crispEdges"/>
<rect x="663" y="119.9" width="3" height="6.2" fill="#008000" shape-rendering="crispEdges"/>
<rect x="664" y="118.7" width="1" height="8.6" fill="#008000" shape-rendering="crispEdges"/>
<rect x="666" y="101.2" width="3" height="20.0" fill="#008000" shape-rendering="crispEdges"/>
<rect x="667" y="100.0" width="1" height="22.4" fill="#008000" shape-rendering="crispEdges"/>
<rect x="669" y="98.7" width="3" height="8.7" fill="#ff0000" shape-rendering="crispEdges"/>
<rect x="670" y="96.9" width="1" height="11.7" fill="#ff0000" shape-rendering="crispEdges"/>
<rect x="672" y="107.4" width="3" height="12.5" fill="#ff0000" shape-rendering="crispEdges"/>
<rect x="673" y="106.2" width="1" height="14.9" fill="#ff0000" shape-rendering="crispEdges"/>
<rect x="675" y="119.9" width="3" height="5.0" fill="#ff0000" shape-rendering="crispEdges"/>
<rect x="676" y="118.7" width="1" height="8.7" fill="#ff0000" shape-rendering="crispEdges"/>
<rect x="678" y="109.9" width="3" height="7.5" fill="#008000" shape-rendering="crispEdges"/>
<rect x="679" y="108.7" width="1" height="9.9" fill="#008000" shape-rendering="crispEdges"/>
<rect x="680" y="111.1" width="3" height="11.2" fill="#ff0000" shape-rendering="crispEdges"/>
<rect x="681" y="109.9" width="1" height="13.6" fill="#ff0000" shape-rendering="crispEdges"/>
<rect x="683" y="117.4" width="3" height="7.5" fill="#ff0000" shape-rendering="crispEdges"/>
<rect x="684" y="116.2" width="1" height="12.4" fill="#ff0000" shape-rendering="crispEdges"/>
<rect x="686" y="109.9" width="3" height="10.0" fill="#008000" shape-rendering="crispEdges"/>
<rect x="687" y="108.7" width="1" height="12.4" fill="#008000" shape-rendering="crispEdges"/>
<rect x="689" y="108.6" width="3" height="8.7" fill="#008000" shape-rendering="crispEdges"/>
<rect x="690" y="107.4" width="1" height="11.1" fill="#008000" shape-rendering="crispEdges"/>
<rect x="691" y="117.4" width="3" height="5.0" fill="#ff0000" shape-rendering="crispEdges"/>
<rect x="692" y="116.2" width="1" height="7.4" fill="#ff0000" shape-rendering="crispEdges"/>
<rect x="695" y="99.9" width="3" height="12.5" fill="#008000" shape-rendering="crispEdges"/>
<rect x="696" y="98.7" width="1" height="14.9" fill="#008000" shape-rendering="crispEdges"/>
<rect x="698" y="96.2" width="3" height="8.7" fill="#008000" shape-rendering="crispEdges"/>
<rect x="699" y="95.0" width="1" height="11.1" fill="#008000" shape-rendering="crispEdges"/>
<rect x="700" y="93.7" width="3" height="10.0" fill="#008000" shape-rendering="crispEdges"/>
<rect x="701" y="92.5" width="1" height="12.4" fill="#008000" shape-rendering="crispEdges"/>
<rect x="703" y="89.9" width="3" height="6.2" fill="#008000" shape-rendering="crispEdges"/>
<rect x="704" y="87.4" width="1" height="9.9" fill="#008000" shape-rendering="crispEdges"/>
<rect x="706" y="88.7" width="3" height="5.0" fill="#008000" shape-rendering="crispEdges"/>
<rect x="707" y="87.5" width="1" height="7.4" fill="#008000" shape-rendering="crispEdges"/>
<rect x="709" y="87.4" width="3" height="13.7" fill="#ff0000" shape-rendering="crispEdges"/>
<rect x="710" y="86.2" width="1" height="16.1" fill="#ff0000" shape-rendering="crispEdges"/>
<rect x="711" y="99.9" width="3" height="28.7" fill="#ff0000" shape-rendering="crispEdges"/>
<rect x="712" y="98.7" width="1" height="31.1" fill="#ff0000" shape-rendering="crispEdges"/>
<rect x="714" y="118.6" width="3" height="12.5" fill="#ff0000" shape-rendering="crispEdges"/>
<rect x="715" y="117.4" width="1" height="17.4" fill="#ff0000" shape-rendering="crispEdges"/>
<rect x="717" y="117.4" width="3" height="12.5" fill="#008000" shape-rendering="crispEdges"/>
<rect x="718" y="111.1" width="1" height="19.9" fill="#008000" shape-rendering="crispEdges"/>
<rect x="720" y="118.6" width="3" height="5.0" fill="#ff0000" shape-rendering="crispEdges"/>
<rect x="721" y="117.4" width="1" height="7.4" fill="#ff0000" shape-rendering="crispEdges"/>
<rect x="723" y="119.9" width="3" height="11.2" fill="#ff0000" shape-rendering="crispEdges"/>
<rect x="724" y="118.7" width="1" height="18.7" fill="#ff0000" shape-rendering="crispEdges"/>
<rect x="725" y="131.1" width="3" height="11.2" fill="#ff0000" shape-rendering="crispEdges"/>
<rect x="726" y="129.9" width="1" height="13.6" fill="#ff0000" shape-rendering="crispEdges"/>
<rect x="728" y="133.6" width="3" height="7.5" fill="#008000" shape-rendering="crispEdges"/>
<rect x="729" y="132.4" width="1" height="22.4" fill="#008000" shape-rendering="crispEdges"/>
<rect x="731" y="133.6" width="3" height="3.7" fill="#008000" shape-rendering="crispEdges"/>
<rect x="732" y="132.4" width="1" height="6.1" fill="#008000" shape-rendering="crispEdges"/>
<rect x="734" y="126.1" width="3" height="2.5" fill="#008000" shape-rendering="crispEdges"/>
<rect x="735" y="122.4" width="1" height="7.4" fill="#008000" shape-rendering="crispEdges"/>
<rect x="737" y="126.1" width="3" height="3.7" fill="#ff0000" shape-rendering="crispEdges"/>
<rect x="738" y="121.1" width="1" height="9.9" fill="#ff0000" shape-rendering="crispEdges"/>
<rect x="740" y="129.9" width="3" height="30.0" fill="#ff0000" shape-rendering="crispEdges"/>
<rect x="741" y="128.7" width="1" height="32.4" fill="#ff0000" shape-rendering="crispEdges"/>
<rect x="743" y="158.6" width="3" height="6.2" fill="#ff0000" shape-rendering="crispEdges"/>
<rect x="744" y="157.4" width="1" height="8.6" fill="#ff0000" shape-rendering="crispEdges"/>
<rect x="745" y="159.8" width="3" height="12.5" fill="#ff0000" shape-rendering="crispEdges"/>
<rect x="746" y="158.6" width="1" height="14.9" fill="#ff0000" shape-rendering="crispEdges"/>
<rect x="748" y="166.1" width="3" height="16.2" fill="#ff0000" shape-rendering="crispEdges"/>
<rect x="749" y="164.9" width="1" height="27.2" fill="#ff0000" shape-rendering="crispEdges"/>
<rect x="751" y="181.0" width="3" height="5.0" fill="#008000" shape-rendering="crispEdges"/>
<rect x="752" y="179.8" width="1" height="9.9" fill="#008000" shape-rendering="crispEdges"/>
<rect x="754" y="161.1" width="3" height="13.7" fill="#008000" shape-rendering="crispEdges"/>
<rect x="755" y="159.9" width="1" height="16.1" fill="#008000" shape-rendering="crispEdges"/>
<rect x="757" y="161.1" width="3" height="22.5" fill="#ff0000" shape-rendering="crispEdges"/>
<rect x="758" y="159.9" width="1" height="27.4" fill="#ff0000" shape-rendering="crispEdges"/>
<rect x="760" y="163.6" width="3" height="18.7" fill="#008000" shape-rendering="crispEdges"/>
<rect x="761" y="162.4" width="1" height="21.1" fill="#008000" shape-rendering="crispEdges"/>
<rect x="763" y="159.8" width="3" height="10.0" fill="#008000" shape-rendering="crispEdges"/>
<rect x="764" y="158.6" width="1" height="12.4" fill="#008000" shape-rendering="crispEdges"/>
<rect x="765" y="141.1" width="3" height="18.7" fill="#008000" shape-rendering="crispEdges"/>
<rect x="766" y="139.9" width="1" height="21.1" fill="#008000" shape-rendering="crispEdges"/>
<rect x="768" y="141.1" width="3" height="7.5" fill="#ff0000" shape-rendering="crispEdges"/>
<rect x="769" y="139.9" width="1" height="9.9" fill="#ff0000" shape-rendering="crispEdges"/>
<rect x="771" y="146.1" width="3" height="3.7" fill="#008000" shape-rendering="crispEdges"/>
<rect x="772" y="144.9" width="1" height="8.7" fill="#008000" shape-rendering="crispEdges"/>
<rect x="774" y="133.6" width="3" height="15.0" fill="#008000" shape-rendering="crispEdges"/>
<rect x="775" y="132.4" width="1" height="24.9" fill="#008000" shape-rendering="crispEdges"/>
<rect x="776" y="129.9" width="3" height="17.5" fill="#008000" shape-rendering="crispEdges"/>
<rect x="777" y="128.7" width="1" height="19.9" fill="#008000" shape-rendering="crispEdges"/>
<rect x="779" y="124.4" width="3" height="6.7" fill="#008000" shape-rendering="crispEdges"/>
<rect x="780" y="123.2" width="1" height="9.1" fill="#008000" shape-rendering="crispEdges"/>
<rect x="782" y="149.8" width="3" height="7.5" fill="#ff0000" shape-rendering="crispEdges"/>
<rect x="783" y="148.6" width="1" height="9.9" fill="#ff0000" shape-rendering="crispEdges"/>
<rect x="785" y="153.6" width="3" height="12.5" fill="#ff0000" shape-rendering="crispEdges"/>
<rect x="786" y="152.4" width="1" height="14.9" fill="#ff0000" shape-rendering="crispEdges"/>
<rect x="788" y="162.3" width="3" height="3.7" fill="#ff0000" shape-rendering="crispEdges"/>
<rect x="789" y="161.1" width="1" height="6.1" fill="#ff0000" shape-rendering="crispEdges"/>
<rect x="791" y="157.3" width="3" height="15.0" fill="#ff0000" shape-rendering="crispEdges"/>
<rect x="792" y="148.6" width="1" height="24.9" fill="#ff0000" shape-rendering="crispEdges"/>
<rect x="793" y="163.6" width="3" height="10.0" fill="#ff0000" shape-rendering="crispEdges"/>
<rect x="794" y="162.4" width="1" height="12.4" fill="#ff0000" shape-rendering="crispEdges"/>
<rect x="796" y="169.8" width="3" height="6.2" fill="#ff0000" shape-rendering="crispEdges"/>
<rect x="797" y="168.6" width="1" height="8.6" fill="#ff0000" shape-rendering="crispEdges"/>
<rect x="799" y="168.6" width="3" height="2.5" fill="#ff0000" shape-rendering="crispEdges"/>
<rect x="800" y="164.8" width="1" height="7.4" fill="#ff0000" shape-rendering="crispEdges"/>
<rect x="802" y="167.3" width="3" height="7.5" fill="#ff0000" shape-rendering="crispEdges"/>
<rect x="803" y="166.1" width="1" height="9.9" fill="#ff0000" shape-rendering="crispEdges"/>
<rect x="805" y="174.8" width="3" height="26.5" fill="#ff0000" shape-rendering="crispEdges"/>
<rect x="806" y="173.6" width="1" height="28.9" fill="#ff0000" shape-rendering="crispEdges"/>
<rect x="808" y="201.3" width="3" height="11.2" fill="#ff0000" shape-rendering="crispEdges"/>
<rect x="809" y="200.1" width="1" height="13.6" fill="#ff0000" shape-rendering="crispEdges"/>
<rect x="810" y="205.0" width="3" height="12.5" fill="#ff0000" shape-rendering="crispEdges"/>
<rect x="811" y="203.8" width="1" height="18.7" fill="#ff0000" shape-rendering="crispEdges"/>
<rect x="813" y="205.0" width="3" height="6.2" fill="#008000" shape-rendering="crispEdges"/>
<rect x="814" y="203.8" width="1" height="26.2" fill="#008000" shape-rendering="crispEdges"/>
<rect x="816" y="205.0" width="3" height="6.2" fill="#ff0000" shape-rendering="crispEdges"/>
<rect x="817" y="195.0" width="1" height="17.4" fill="#ff0000" shape-rendering="crispEdges"/>
<rect x="819" y="203.8" width="3" height="7.5" fill="#008000" shape-rendering="crispEdges"/>
<rect x="820" y="202.6" width="1" height="9.9" fill="#008000" shape-rendering="crispEdges"/>
<rect x="822" y="202.5" width="3" height="8.7" fill="#ff0000" shape-rendering="crispEdges"/>
<rect x="823" y="201.3" width="1" height="11.1" fill="#ff0000" shape-rendering="crispEdges"/>
<rect x="825" y="201.3" width="3" height="10.0" fill="#008000" shape-rendering="crispEdges"/>
<rect x="826" y="200.1" width="1" height="19.9" fill="#008000" shape-rendering="crispEdges"/>
<rect x="828" y="183.5" width="3" height="26.5" fill="#008000" shape-rendering="crispEdges"/>
<rect x="829" y="182.3" width="1" height="28.9" fill="#008000" shape-rendering="crispEdges"/>
<rect x="833" y="178.5" width="3" height="6.2" fill="#008000" shape-rendering="crispEdges"/>
<rect x="834" y="177.3" width="1" height="8.6" fill="#008000" shape-rendering="crispEdges"/>
<rect x="836" y="177.3" width="3" height="6.2" fill="#ff0000" shape-rendering="crispEdges"/>
<rect x="837" y="171.1" width="1" height="13.7" fill="#ff0000" shape-rendering="crispEdges"/>
<rect x="839" y="179.8" width="3" height="3.7" fill="#008000" shape-rendering="crispEdges"/>
<rect x="840" y="178.6" width="1" height="6.1" fill="#008000" shape-rendering="crispEdges"/>
<rect x="841" y="178.5" width="3" height="2.5" fill="#008000" shape-rendering="crispEdges"/>
<rect x="842" y="177.3" width="1" height="4.9" fill="#008000" shape-rendering="crispEdges"/>
<rect x="844" y="178.5" width="3" height="33.9" fill="#ff0000" shape-rendering="crispEdges"/>
<rect x="845" y="177.3" width="1" height="47.6" fill="#ff0000" shape-rendering="crispEdges"/>
<rect x="846" y="197.5" width="3" height="20.0" fill="#ff0000" shape-rendering="crispEdges"/>
<rect x="847" y="196.3" width="1" height="22.4" fill="#ff0000" shape-rendering="crispEdges"/>
<rect x="849" y="200.0" width="3" height="37.4" fill="#ff0000" shape-rendering="crispEdges"/>
<rect x="850" y="198.8" width="1" height="46.1" fill="#ff0000" shape-rendering="crispEdges"/>
<rect x="852" y="220.0" width="3" height="18.7" fill="#008000" shape-rendering="crispEdges"/>
<rect x="853" y="218.8" width="1" height="21.1" fill="#008000" shape-rendering="crispEdges"/>
<rect x="855" y="210.0" width="3" height="13.7" fill="#008000" shape-rendering="crispEdges"/>
<rect x="856" y="208.8" width="1" height="16.1" fill="#008000" shape-rendering="crispEdges"/>
<rect x="858" y="203.8" width="3" height="8.7" fill="#008000" shape-rendering="crispEdges"/>
<rect x="859" y="192.5" width="1" height="21.2" fill="#008000" shape-rendering="crispEdges"/>
<rect x="861" y="203.8" width="3" height="10.0" fill="#ff0000" shape-rendering="crispEdges"/>
<rect x="862" y="202.6" width="1" height="14.9" fill="#ff0000" shape-rendering="crispEdges"/>
<rect x="864" y="211.2" width="3" height="2.5" fill="#008000" shape-rendering="crispEdges"/>
<rect x="865" y="210.0" width="1" height="4.9" fill="#008000" shape-rendering="crispEdges"/>
<rect x="867" y="187.3" width="3" height="25.2" fill="#008000" shape-rendering="crispEdges"/>
<rect x="868" y="186.1" width="1" height="27.6" fill="#008000" shape-rendering="crispEdges"/>
<rect x="871" y="184.8" width="3" height="10.2" fill="#008000" shape-rendering="crispEdges"/>
<rect x="872" y="183.6" width="1" height="12.6" fill="#008000" shape-rendering="crispEdges"/>
<rect x="874" y="179.8" width="3" height="14.0" fill="#008000" shape-rendering="crispEdges"/>
<rect x="875" y="178.6" width="1" height="16.4" fill="#008000" shape-rendering="crispEdges"/>
<rect x="877" y="177.3" width="3" height="7.5" fill="#ff0000" shape-rendering="crispEdges"/>
<rect x="878" y="176.0" width="1" height="9.9" fill="#ff0000" shape-rendering="crispEdges"/>
<rect x="880" y="184.8" width="3" height="11.5" fill="#ff0000" shape-rendering="crispEdges"/>
<rect x="881" y="183.6" width="1" height="13.9" fill="#ff0000" shape-rendering="crispEdges"/>
<rect x="884" y="195.0" width="3" height="10.0" fill="#ff0000" shape-rendering="crispEdges"/>
<rect x="885" y="193.8" width="1" height="12.4" fill="#ff0000" shape-rendering="crispEdges"/>
<rect x="887" y="198.8" width="3" height="10.0" fill="#ff0000" shape-rendering="crispEdges"/>
<rect x="888" y="197.6" width="1" height="12.4" fill="#ff0000" shape-rendering="crispEdges"/>
<rect x="889" y="203.8" width="3" height="10.0" fill="#ff0000" shape-rendering="crispEdges"/>
<rect x="890" y="202.6" width="1" height="12.4" fill="#ff0000" shape-rendering="crispEdges"/>
<rect x="892" y="205.0" width="3" height="22.5" fill="#ff0000" shape-rendering="crispEdges"/>
<rect x="893" y="203.8" width="1" height="24.9" fill="#ff0000" shape-rendering="crispEdges"/>
<rect x="895" y="227.5" width="3" height="15.0" fill="#ff0000" shape-rendering="crispEdges"/>
<rect x="896" y="226.3" width="1" height="17.4" fill="#ff0000" shape-rendering="crispEdges"/>
<rect x="898" y="231.2" width="3" height="8.7" fill="#008000" shape-rendering="crispEdges"/>
<rect x="899" y="227.5" width="1" height="13.7" fill="#008000" shape-rendering="crispEdges"/>
<rect x="901" y="232.5" width="3" height="8.7" fill="#ff0000" shape-rendering="crispEdges"/>
<rect x="902" y="223.7" width="1" height="18.7" fill="#ff0000" shape-rendering="crispEdges"/>
<rect x="903" y="235.0" width="3" height="7.5" fill="#ff0000" shape-rendering="crispEdges"/>
<rect x="904" y="233.8" width="1" height="9.9" fill="#ff0000" shape-rendering="crispEdges"/>
<rect x="906" y="238.7" width="3" height="3.7" fill="#ff0000" shape-rendering="crispEdges"/>
<rect x="907" y="237.5" width="1" height="13.7" fill="#ff0000" shape-rendering="crispEdges"/>
<rect x="909" y="237.5" width="3" height="5.0" fill="#008000" shape-rendering="crispEdges"/>
<rect x="910" y="236.3" width="1" height="7.4" fill="#008000" shape-rendering="crispEdges"/>
<rect x="912" y="235.0" width="3" height="6.2" fill="#008000" shape-rendering="crispEdges"/>
<rect x="913" y="233.8" width="1" height="8.6" fill="#008000" shape-rendering="crispEdges"/>
<rect x="915" y="235.0" width="3" height="5.0" fill="#008000" shape-rendering="crispEdges"/>
<rect x="916" y="233.8" width="1" height="7.4" fill="#008000" shape-rendering="crispEdges"/>
<rect x="917" y="241.2" width="3" height="5.0" fill="#ff0000" shape-rendering="crispEdges"/>
<rect x="918" y="240.0" width="1" height="7.4" fill="#ff0000" shape-rendering="crispEdges"/>
<rect x="919" y="243.7" width="3" height="12.5" fill="#ff0000" shape-rendering="crispEdges"/>
<rect x="920" y="242.5" width="1" height="28.7" fill="#ff0000" shape-rendering="crispEdges"/>
<rect x="923" y="235.0" width="3" height="21.2" fill="#008000" shape-rendering="crispEdges"/>
<rect x="924" y="231.2" width="1" height="26.2" fill="#008000" shape-rendering="crispEdges"/>
<rect x="926" y="218.7" width="3" height="13.7" fill="#008000" shape-rendering="crispEdges"/>
<rect x="927" y="217.5" width="1" height="16.1" fill="#008000" shape-rendering="crispEdges"/>
<rect x="929" y="212.5" width="3" height="6.2" fill="#008000" shape-rendering="crispEdges"/>
<rect x="930" y="211.3" width="1" height="8.6" fill="#008000" shape-rendering="crispEdges"/>
<rect x="932" y="201.3" width="3" height="11.2" fill="#008000" shape-rendering="crispEdges"/>
<rect x="933" y="200.1" width="1" height="13.6" fill="#008000" shape-rendering="crispEdges"/>
<rect x="935" y="200.0" width="3" height="11.2" fill="#ff0000" shape-rendering="crispEdges"/>
<rect x="936" y="198.8" width="1" height="13.6" fill="#ff0000" shape-rendering="crispEdges"/>
<rect x="937" y="207.5" width="3" height="8.7" fill="#ff0000" shape-rendering="crispEdges"/>
<rect x="938" y="206.3" width="1" height="12.4" fill="#ff0000" shape-rendering="crispEdges"/>
<rect x="940" y="200.0" width="3" height="16.2" fill="#008000" shape-rendering="crispEdges"/>
<rect x="941" y="198.8" width="1" height="18.6" fill="#008000" shape-rendering="crispEdges"/>
<rect x="943" y="195.0" width="3" height="6.2" fill="#008000" shape-rendering="crispEdges"/>
<rect x="944" y="193.8" width="1" height="8.6" fill="#008000" shape-rendering="crispEdges"/>
<rect x="946" y="157.3" width="3" height="20.0" fill="#008000" shape-rendering="crispEdges"/>
<rect x="947" y="156.1" width="1" height="22.4" fill="#008000" shape-rendering="crispEdges"/>
<rect x="949" y="153.6" width="3" height="6.2" fill="#008000" shape-rendering="crispEdges"/>
<rect x="950" y="152.4" width="1" height="8.6" fill="#008000" shape-rendering="crispEdges"/>
<rect x="951" y="143.6" width="3" height="11.2" fill="#008000" shape-rendering="crispEdges"/>
<rect x="952" y="142.4" width="1" height="13.6" fill="#008000" shape-rendering="crispEdges"/>
<rect x="954" y="143.6" width="3" height="6.2" fill="#ff0000" shape-rendering="crispEdges"/>
<rect x="955" y="142.4" width="1" height="8.6" fill="#ff0000" shape-rendering="crispEdges"/>
<rect x="957" y="143.6" width="3" height="3.7" fill="#008000" shape-rendering="crispEdges"/>
<rect x="958" y="142.4" width="1" height="12.4" fill="#008000" shape-rendering="crispEdges"/>
<rect x="960" y="141.1" width="3" height="2.5" fill="#008000" shape-rendering="crispEdges"/>
<rect x="961" y="139.9" width="1" height="9.9" fill="#008000" shape-rendering="crispEdges"/>
<rect x="963" y="138.6" width="3" height="3.7" fill="#008000" shape-rendering="crispEdges"/>
<rect x="964" y="137.4" width="1" height="6.1" fill="#008000" shape-rendering="crispEdges"/>
<rect x="965" y="128.6" width="3" height="16.2" fill="#ff0000" shape-rendering="crispEdges"/>
<rect x="966" y="127.4" width="1" height="18.6" fill="#ff0000" shape-rendering="crispEdges"/>
<rect x="968" y="131.1" width="3" height="5.0" fill="#008000" shape-rendering="crispEdges"/>
<rect x="969" y="124.9" width="1" height="12.4" fill="#008000" shape-rendering="crispEdges"/>
<rect x="971" y="131.1" width="3" height="3.7" fill="#ff0000" shape-rendering="crispEdges"/>
<rect x="972" y="129.9" width="1" height="6.1" fill="#ff0000" shape-rendering="crispEdges"/>
<rect x="974" y="127.4" width="3" height="3.7" fill="#008000" shape-rendering="crispEdges"/>
<rect x="975" y="126.1" width="1" height="6.2" fill="#008000" shape-rendering="crispEdges"/>
<rect x="977" y="129.9" width="3" height="11.2" fill="#ff0000" shape-rendering="crispEdges"/>
<rect x="978" y="128.7" width="1" height="13.6" fill="#ff0000" shape-rendering="crispEdges"/>
<rect x="980" y="139.9" width="3" height="11.2" fill="#ff0000" shape-rendering="crispEdges"/>
<rect x="981" y="138.7" width="1" height="13.6" fill="#ff0000" shape-rendering="crispEdges"/>
<rect x="983" y="131.1" width="3" height="10.0" fill="#008000" shape-rendering="crispEdges"/>
<rect x="984" y="129.9" width="1" height="12.4" fill="#008000" shape-rendering="crispEdges"/>
<rect x="985" y="129.9" width="3" height="13.7" fill="#ff0000" shape-rendering="crispEdges"/>
<rect x="986" y="128.7" width="1" height="16.1" fill="#ff0000" shape-rendering="crispEdges"/>
<rect x="988" y="137.4" width="3" height="2.5" fill="#ff0000" shape-rendering="crispEdges"/>
<rect x="989" y="136.2" width="1" height="4.9" fill="#ff0000" shape-rendering="crispEdges"/>
<rect x="991" y="133.6" width="3" height="6.2" fill="#008000" shape-rendering="crispEdges"/>
<rect x="992" y="132.4" width="1" height="8.6" fill="#008000" shape-rendering="crispEdges"/>
<rect x="994" y="133.6" width="3" height="13.7" fill="#ff0000" shape-rendering="crispEdges"/>
<rect x="995" y="132.4" width="1" height="16.1" fill="#ff0000" shape-rendering="crispEdges"/>
<rect x="997" y="144.8" width="3" height="8.7" fill="#ff0000" shape-rendering="crispEdges"/>
<rect x="998" y="143.6" width="1" height="11.1" fill="#ff0000" shape-rendering="crispEdges"/>
<rect x="1000" y="153.6" width="3" height="18.7" fill="#ff0000" shape-rendering="crispEdges"/>
<rect x="1001" y="152.4" width="1" height="21.1" fill="#ff0000" shape-rendering="crispEdges"/>
<rect x="1002" y="169.8" width="3" height="8.7" fill="#ff0000" shape-rendering="crispEdges"/>
<rect x="1003" y="168.6" width="1" height="11.1" fill="#ff0000" shape-rendering="crispEdges"/>
<rect x="1005" y="163.6" width="3" height="6.2" fill="#008000" shape-rendering="crispEdges"/>
<rect x="1006" y="162.4" width="1" height="18.7" fill="#008000" shape-rendering="crispEdges"/>
<rect x="1008" y="164.8" width="3" height="5.0" fill="#ff0000" shape-rendering="crispEdges"/>
<rect x="1009" y="163.6" width="1" height="7.4" fill="#ff0000" shape-rendering="crispEdges"/>
<rect x="1011" y="161.1" width="3" height="7.5" fill="#008000" shape-rendering="crispEdges"/>
<rect x="1012" y="159.9" width="1" height="9.9" fill="#008000" shape-rendering="crispEdges"/>
<rect x="1014" y="162.3" width="3" height="7.5" fill="#ff0000" shape-rendering="crispEdges"/>
<rect x="1015" y="161.1" width="1" height="9.9" fill="#ff0000" shape-rendering="crispEdges"/>
<rect x="1017" y="164.8" width="3" height="13.7" fill="#ff0000" shape-rendering="crispEdges"/>
<rect x="1018" y="163.6" width="1" height="16.1" fill="#ff0000" shape-rendering="crispEdges"/>
<rect x="1019" y="162.3" width="3" height="11.2" fill="#008000" shape-rendering="crispEdges"/>
<rect x="1020" y="161.1" width="1" height="13.6" fill="#008000" shape-rendering="crispEdges"/>
<rect x="1022" y="156.1" width="3" height="6.2" fill="#008000" shape-rendering="crispEdges"/>
<rect x="1023" y="154.9" width="1" height="8.6" fill="#008000" shape-rendering="crispEdges"/>
<rect x="1025" y="138.6" width="3" height="16.2" fill="#008000" shape-rendering="crispEdges"/>
<rect x="1026" y="137.4" width="1" height="18.6" fill="#008000" shape-rendering="crispEdges"/>
<rect x="1028" y="138.6" width="3" height="6.2" fill="#ff0000" shape-rendering="crispEdges"/>
<rect x="1029" y="133.6" width="1" height="12.4" fill="#ff0000" shape-rendering="crispEdges"/>
<rect x="1031" y="138.6" width="3" height="7.5" fill="#008000" shape-rendering="crispEdges"/>
<rect x="1032" y="137.4" width="1" height="9.9" fill="#008000" shape-rendering="crispEdges"/>
<rect x="1033" y="139.4" width="3" height="1.7" fill="#008000" shape-rendering="crispEdges"/>
<rect x="1034" y="138.2" width="1" height="4.1" fill="#008000" shape-rendering="crispEdges"/>
<rect x="1036" y="138.6" width="3" height="1.2" fill="#ff0000" shape-rendering="crispEdges"/>
<rect x="1037" y="137.4" width="1" height="3.6" fill="#ff0000" shape-rendering="crispEdges"/>
<rect x="1039" y="136.1" width="3" height="2.5" fill="#008000" shape-rendering="crispEdges"/>
<rect x="1040" y="134.9" width="1" height="4.9" fill="#008000" shape-rendering="crispEdges"/>
<rect x="1042" y="134.9" width="3" height="17.5" fill="#ff0000" shape-rendering="crispEdges"/>
<rect x="1043" y="133.7" width="1" height="19.9" fill="#ff0000" shape-rendering="crispEdges"/>
<rect x="1045" y="146.1" width="3" height="3.7" fill="#008000" shape-rendering="crispEdges"/>
<rect x="1046" y="144.9" width="1" height="6.1" fill="#008000" shape-rendering="crispEdges"/>
<rect x="1048" y="137.4" width="3" height="8.7" fill="#008000" shape-rendering="crispEdges"/>
<rect x="1049" y="136.2" width="1" height="11.1" fill="#008000" shape-rendering="crispEdges"/>
<rect x="1050" y="133.6" width="3" height="6.2" fill="#008000" shape-rendering="crispEdges"/>
<rect x="1051" y="127.4" width="1" height="13.7" fill="#008000" shape-rendering="crispEdges"/>
<rect x="1053" y="133.6" width="3" height="3.7" fill="#ff0000" shape-rendering="crispEdges"/>
<rect x="1054" y="132.4" width="1" height="11.2" fill="#ff0000" shape-rendering="crispEdges"/>
<rect x="1056" y="136.1" width="3" height="2.5" fill="#ff0000" shape-rendering="crispEdges"/>
<rect x="1057" y="134.9" width="1" height="9.9" fill="#ff0000" shape-rendering="crispEdges"/>
<rect x="1059" y="137.4" width="3" height="42.4" fill="#ff0000" shape-rendering="crispEdges"/>
<rect x="1060" y="136.2" width="1" height="44.8" fill="#ff0000" shape-rendering="crispEdges"/>
<rect x="1061" y="168.6" width="3" height="16.2" fill="#ff0000" shape-rendering="crispEdges"/>
<rect x="1062" y="167.4" width="1" height="18.6" fill="#ff0000" shape-rendering="crispEdges"/>
<rect x="1064" y="183.5" width="3" height="10.2" fill="#ff0000" shape-rendering="crispEdges"/>
<rect x="1065" y="182.3" width="1" height="12.6" fill="#ff0000" shape-rendering="crispEdges"/>
<rect x="1067" y="184.8" width="3" height="7.7" fill="#ff0000" shape-rendering="crispEdges"/>
<rect x="1068" y="183.6" width="1" height="12.7" fill="#ff0000" shape-rendering="crispEdges"/>
<rect x="1070" y="187.3" width="3" height="4.0" fill="#008000" shape-rendering="crispEdges"/>
<rect x="1071" y="186.1" width="1" height="6.4" fill="#008000" shape-rendering="crispEdges"/>
<rect x="1073" y="172.3" width="3" height="19.0" fill="#008000" shape-rendering="crispEdges"/>
<rect x="1074" y="162.3" width="1" height="30.2" fill="#008000" shape-rendering="crispEdges"/>
<rect x="1076" y="172.3" width="3" height="12.5" fill="#ff0000" shape-rendering="crispEdges"/>
<rect x="1077" y="171.1" width="1" height="14.9" fill="#ff0000" shape-rendering="crispEdges"/>
<rect x="1078" y="179.8" width="3" height="8.7" fill="#ff0000" shape-rendering="crispEdges"/>
<rect x="1079" y="178.6" width="1" height="11.1" fill="#ff0000" shape-rendering="crispEdges"/>
<rect x="1081" y="182.3" width="3" height="20.2" fill="#ff0000" shape-rendering="crispEdges"/>
<rect x="1082" y="181.1" width="1" height="22.6" fill="#ff0000" shape-rendering="crispEdges"/>
<rect x="1084" y="201.3" width="3" height="13.7" fill="#ff0000" shape-rendering="crispEdges"/>
<rect x="1085" y="200.1" width="1" height="16.1" fill="#ff0000" shape-rendering="crispEdges"/>
<rect x="1087" y="208.7" width="3" height="8.7" fill="#ff0000" shape-rendering="crispEdges"/>
<rect x="1088" y="207.5" width="1" height="11.1" fill="#ff0000" shape-rendering="crispEdges"/>
<rect x="1090" y="213.7" width="3" height="2.5" fill="#008000" shape-rendering="crispEdges"/>
<rect x="1091" y="208.7" width="1" height="15.0" fill="#008000" shape-rendering="crispEdges"/>
<rect x="1093" y="212.5" width="3" height="5.0" fill="#ff0000" shape-rendering="crispEdges"/>
<rect x="1094" y="211.3" width="1" height="7.4" fill="#ff0000" shape-rendering="crispEdges"/>
<rect x="1095" y="217.5" width="3" height="13.7" fill="#ff0000" shape-rendering="crispEdges"/>
<rect x="1096" y="216.3" width="1" height="16.1" fill="#ff0000" shape-rendering="crispEdges"/>
<rect x="1098" y="227.5" width="3" height="10.0" fill="#ff0000" shape-rendering="crispEdges"/>
<rect x="1099" y="226.3" width="1" height="12.4" fill="#ff0000" shape-rendering="crispEdges"/>
<rect x="1101" y="233.7" width="3" height="12.5" fill="#ff0000" shape-rendering="crispEdges"/>
<rect x="1102" y="232.5" width="1" height="14.9" fill="#ff0000" shape-rendering="crispEdges"/>
<rect x="1104" y="240.0" width="3" height="15.0" fill="#ff0000" shape-rendering="crispEdges"/>
<rect x="1105" y="238.8" width="1" height="17.4" fill="#ff0000" shape-rendering="crispEdges"/>
<rect x="1107" y="253.7" width="3" height="13.7" fill="#ff0000" shape-rendering="crispEdges"/>
<rect x="1108" y="252.5" width="1" height="16.1" fill="#ff0000" shape-rendering="crispEdges"/>
<rect x="1110" y="264.9" width="3" height="10.0" fill="#ff0000" shape-rendering="crispEdges"/>
<rect x="1111" y="263.7" width="1" height="12.4" fill="#ff0000" shape-rendering="crispEdges"/>
<rect x="1112" y="253.7" width="3" height="22.5" fill="#008000" shape-rendering="crispEdges"/>
<rect x="1113" y="252.5" width="1" height="27.4" fill="#008000" shape-rendering="crispEdges"/>
<rect x="1115" y="231.2" width="3" height="22.5" fill="#008000" shape-rendering="crispEdges"/>
<rect x="1116" y="230.0" width="1" height="24.9" fill="#008000" shape-rendering="crispEdges"/>
<rect x="1118" y="231.2" width="3" height="5.0" fill="#ff0000" shape-rendering="crispEdges"/>
<rect x="1119" y="220.0" width="1" height="17.4" fill="#ff0000" shape-rendering="crispEdges"/>
<rect x="1121" y="233.7" width="3" height="6.2" fill="#ff0000" shape-rendering="crispEdges"/>
<rect x="1122" y="232.5" width="1" height="8.6" fill="#ff0000" shape-rendering="crispEdges"/>
<rect x="1124" y="232.5" width="3" height="6.2" fill="#ff0000" shape-rendering="crispEdges"/>
<rect x="1125" y="231.3" width="1" height="8.6" fill="#ff0000" shape-rendering="crispEdges"/>
<rect x="1127" y="232.5" width="3" height="3.7" fill="#008000" shape-rendering="crispEdges"/>
<rect x="1128" y="231.3" width="1" height="6.1" fill="#008000" shape-rendering="crispEdges"/>
<rect x="1129" y="232.5" width="3" height="23.7" fill="#ff0000" shape-rendering="crispEdges"/>
<rect x="1130" y="225.0" width="1" height="42.4" fill="#ff0000" shape-rendering="crispEdges"/>
<rect x="1132" y="252.4" width="3" height="10.0" fill="#ff0000" shape-rendering="crispEdges"/>
<rect x="1133" y="251.2" width="1" height="16.2" fill="#ff0000" shape-rendering="crispEdges"/>
<rect x="1135" y="254.9" width="3" height="12.5" fill="#ff0000" shape-rendering="crispEdges"/>
<rect x="1136" y="253.7" width="1" height="14.9" fill="#ff0000" shape-rendering="crispEdges"/>
<rect x="1138" y="256.2" width="3" height="20.0" fill="#ff0000" shape-rendering="crispEdges"/>
<rect x="1139" y="255.0" width="1" height="22.4" fill="#ff0000" shape-rendering="crispEdges"/>
<rect x="1141" y="274.9" width="3" height="15.0" fill="#ff0000" shape-rendering="crispEdges"/>
<rect x="1142" y="273.7" width="1" height="17.4" fill="#ff0000" shape-rendering="crispEdges"/>
<rect x="1144" y="288.6" width="3" height="8.7" fill="#ff0000" shape-rendering="crispEdges"/>
<rect x="1145" y="287.4" width="1" height="17.4" fill="#ff0000" shape-rendering="crispEdges"/>
<rect x="1146" y="289.9" width="3" height="6.2" fill="#ff0000" shape-rendering="crispEdges"/>
<rect x="1147" y="288.7" width="1" height="8.6" fill="#ff0000" shape-rendering="crispEdges"/>
<rect x="1149" y="287.4" width="3" height="12.5" fill="#008000" shape-rendering="crispEdges"/>
<rect x="1150" y="286.2" width="1" height="17.4" fill="#008000" shape-rendering="crispEdges"/>
<rect x="1152" y="274.9" width="3" height="13.7" fill="#008000" shape-rendering="crispEdges"/>
<rect x="1153" y="273.7" width="1" height="16.1" fill="#008000" shape-rendering="crispEdges"/>
<rect x="1155" y="258.7" width="3" height="17.5" fill="#008000" shape-rendering="crispEdges"/>
<rect x="1156" y="257.5" width="1" height="19.9" fill="#008000" shape-rendering="crispEdges"/>
<rect x="1158" y="240.0" width="3" height="17.5" fill="#008000" shape-rendering="crispEdges"/>
<rect x="1159" y="238.8" width="1" height="19.9" fill="#008000" shape-rendering="crispEdges"/>
<rect x="1161" y="231.2" width="3" height="11.2" fill="#008000" shape-rendering="crispEdges"/>
<rect x="1162" y="228.7" width="1" height="14.9" fill="#008000" shape-rendering="crispEdges"/>
<rect x="1163" y="232.5" width="3" height="3.7" fill="#ff0000" shape-rendering="crispEdges"/>
<rect x="1164" y="223.7" width="1" height="13.7" fill="#ff0000" shape-rendering="crispEdges"/>
<rect x="1166" y="235.0" width="3" height="3.7" fill="#ff0000" shape-rendering="crispEdges"/>
<rect x="1167" y="233.8" width="1" height="6.1" fill="#ff0000" shape-rendering="crispEdges"/>
<rect x="1169" y="236.2" width="3" height="7.5" fill="#ff0000" shape-rendering="crispEdges"/>
<rect x="1170" y="235.0" width="1" height="9.9" fill="#ff0000" shape-rendering="crispEdges"/>
<rect x="1172" y="233.7" width="3" height="8.7" fill="#008000" shape-rendering="crispEdges"/>
<rect x="1173" y="232.5" width="1" height="23.7" fill="#008000" shape-rendering="crispEdges"/>
<rect x="1175" y="221.2" width="3" height="13.7" fill="#008000" shape-rendering="crispEdges"/>
<rect x="1176" y="220.0" width="1" height="16.1" fill="#008000" shape-rendering="crispEdges"/>
<rect x="1177" y="225.0" width="3" height="18.7" fill="#ff0000" shape-rendering="crispEdges"/>
<rect x="1178" y="221.2" width="1" height="23.7" fill="#ff0000" shape-rendering="crispEdges"/>
<rect x="1180" y="232.5" width="3" height="11.2" fill="#ff0000" shape-rendering="crispEdges"/>
<rect x="1181" y="231.3" width="1" height="17.4" fill="#ff0000" shape-rendering="crispEdges"/>
<rect x="1183" y="236.2" width="3" height="7.5" fill="#008000" shape-rendering="crispEdges"/>
<rect x="1184" y="235.0" width="1" height="9.9" fill="#008000" shape-rendering="crispEdges"/>
<rect x="1186" y="236.2" width="3" height="8.7" fill="#008000" shape-rendering="crispEdges"/>
<rect x="1187" y="235.0" width="1" height="11.1" fill="#008000" shape-rendering="crispEdges"/>
<rect x="1189" y="233.7" width="3" height="3.7" fill="#008000" shape-rendering="crispEdges"/>
<rect x="1190" y="232.5" width="1" height="6.1" fill="#008000" shape-rendering="crispEdges"/>
<rect x="1192" y="225.0" width="3" height="8.7" fill="#008000" shape-rendering="crispEdges"/>
<rect x="1193" y="223.8" width="1" height="11.1" fill="#008000" shape-rendering="crispEdges"/>
<rect x="1194" y="213.7" width="3" height="11.2" fill="#008000" shape-rendering="crispEdges"/>
<rect x="1195" y="212.5" width="1" height="13.6" fill="#008000" shape-rendering="crispEdges"/>
<rect x="1197" y="213.7" width="3" height="3.7" fill="#ff0000" shape-rendering="crispEdges"/>
<rect x="1198" y="210.0" width="1" height="8.7" fill="#ff0000" shape-rendering="crispEdges"/>
<rect x="1200" y="216.2" width="3" height="3.7" fill="#ff0000" shape-rendering="crispEdges"/>
<rect x="1201" y="215.0" width="1" height="6.1" fill="#ff0000" shape-rendering="crispEdges"/>
<rect x="1203" y="217.5" width="3" height="3.7" fill="#008000" shape-rendering="crispEdges"/>
<rect x="1204" y="216.3" width="1" height="11.2" fill="#008000" shape-rendering="crispEdges"/>
<rect x="1206" y="212.5" width="3" height="6.2" fill="#008000" shape-rendering="crispEdges"/>
<rect x="1207" y="211.3" width="1" height="8.6" fill="#008000" shape-rendering="crispEdges"/>
<rect x="1208" y="205.0" width="3" height="8.7" fill="#008000" shape-rendering="crispEdges"/>
<rect x="1209" y="203.8" width="1" height="11.1" fill="#008000" shape-rendering="crispEdges"/>
<rect x="1211" y="195.0" width="3" height="10.0" fill="#008000" shape-rendering="crispEdges"/>
<rect x="1212" y="193.8" width="1" height="12.4" fill="#008000" shape-rendering="crispEdges"/>
<rect x="1214" y="195.0" width="3" height="6.2" fill="#008000" shape-rendering="crispEdges"/>
<rect x="1215" y="193.8" width="1" height="8.6" fill="#008000" shape-rendering="crispEdges"/>
<rect x="1217" y="192.5" width="3" height="10.0" fill="#008000" shape-rendering="crispEdges"/>
<rect x="1218" y="191.3" width="1" height="12.4" fill="#008000" shape-rendering="crispEdges"/>
<rect x="1219" y="188.5" width="3" height="5.2" fill="#008000" shape-rendering="crispEdges"/>
<rect x="1220" y="187.3" width="1" height="7.6" fill="#008000" shape-rendering="crispEdges"/>
<rect x="1222" y="190.0" width="3" height="5.0" fill="#ff0000" shape-rendering="crispEdges"/>
<rect x="1223" y="188.8" width="1" height="7.4" fill="#ff0000" shape-rendering="crispEdges"/>
<rect x="1225" y="193.8" width="3" height="8.7" fill="#ff0000" shape-rendering="crispEdges"/>
<rect x="1226" y="192.6" width="1" height="11.1" fill="#ff0000" shape-rendering="crispEdges"/>
<rect x="1228" y="196.3" width="3" height="6.2" fill="#008000" shape-rendering="crispEdges"/>
<rect x="1229" y="195.1" width="1" height="8.6" fill="#008000" shape-rendering="crispEdges"/>
<rect x="1231" y="195.0" width="3" height="7.5" fill="#ff0000" shape-rendering="crispEdges"/>
<rect x="1232" y="193.8" width="1" height="9.9" fill="#ff0000" shape-rendering="crispEdges"/>
<polyline points="72.4,333.6 82.4,312.3 88.6,297.4 94.9,289.9 104.8,282.9 111.1,281.6 116.1,286.1 119.8,286.1 123.6,272.4 129.8,261.2 136.0,254.9 142.3,248.7 147.3,237.5 152.3,215.0 156.0,207.5 161.0,197.5 164.8,190.0 171.0,179.3 177.2,184.3 184.7,181.3 191.0,182.8 196.0,190.0 199.7,193.8 207.2,192.5 212.2,190.0 217.2,181.0 222.2,164.8 229.7,161.8 239.6,163.6 252.1,166.6 262.1,162.3 272.1,154.8 279.6,139.9 288.3,127.4 298.3,124.1 303.3,124.9 309.5,131.1 314.5,128.6 320.8,128.1 327.0,124.9 332.0,124.4 337.0,120.4 340.0,121.1 345.0,126.1 351.2,142.3 357.5,157.3 365.0,174.8 372.5,183.5 377.4,189.8 380.4,191.3 383.7,189.8 391.2,178.5 399.9,159.8 407.4,139.9 414.9,119.9 422.4,106.2 429.9,99.9 439.9,97.9 447.3,93.7 452.3,91.2 457.3,94.9 462.3,101.2 469.8,102.4 477.3,103.7 483.5,99.9 487.3,82.4 489.8,70.0 494.8,66.2 504.8,67.5 514.7,63.7 519.7,50.0 526.0,40.0 529.7,36.5 532.7,34.5 536.0,36.5 539.7,40.0 542.2,50.0 547.2,72.5 552.2,97.4 557.2,117.4 562.2,127.4 567.2,124.9 574.6,114.9 582.1,107.4 588.4,105.4 594.6,111.1 600.9,116.1 607.1,119.9 613.3,127.4 618.3,128.6 624.6,126.1 632.1,119.9 639.6,114.9 647.0,113.6 654.5,113.6 662.0,112.4 669.5,107.4 674.5,106.2 680.0,109.9 686.2,107.4 692.5,106.2 700.0,99.9 706.2,92.4 714.9,89.9 724.9,87.9 734.9,87.4 742.4,82.4 749.9,77.4 754.9,79.9 759.9,87.4 764.9,102.4 769.9,108.6 777.4,114.9 784.8,117.4 789.8,122.4 794.8,129.4 799.8,130.4 804.8,128.6 811.1,122.4 818.5,118.1 826.0,122.4 831.0,129.9 836.0,144.8 842.3,156.1 849.7,162.3 854.7,168.6 862.2,172.3 872.2,169.3 882.2,166.1 889.7,167.8 897.2,172.3 907.2,171.6 919.6,170.3 927.1,176.0 932.1,183.5 935.9,190.0 939.6,193.8 943.4,192.5 945.1,189.8 948.3,174.8 952.1,157.3 957.1,137.4 962.1,119.9 962.5,119.9 966.2,107.4 971.2,97.4 975.5,95.4 981.2,99.9 988.7,99.2 993.7,106.2 997.4,114.9 1001.2,121.1 1006.2,118.6 1016.2,116.9 1024.9,121.1 1032.4,123.6 1039.9,123.6 1047.4,126.1 1056.1,123.6 1064.8,118.6 1072.3,114.4 1079.8,113.1 1086.1,112.4 1091.1,114.9 1097.3,121.1 1103.5,128.6 1108.5,137.4 1112.3,149.8 1117.3,158.6 1123.5,167.3 1127.2,173.5 1131.7,187.3 1137.5,199.8 1146.5,208.7 1159.2,219.2 1167.4,212.5 1178.2,208.7 1184.7,210.5 1191.9,206.5 1198.4,201.0 1206.9,202.3 1212.1,198.8 1217.6,191.5 1220.9,189.3 1224.6,183.5 1232.6,180.5" fill="none" stroke="#cc33ff" stroke-width="1" stroke-linejoin="round" shape-rendering="crispEdges"/>
<polyline points="106.1,333.6 112.3,323.6 119.8,313.6 129.8,303.6 137.3,293.6 144.8,284.9 149.8,276.1 156.0,266.2 162.3,256.2 169.7,243.7 177.2,235.0 184.7,228.7 192.2,222.5 199.7,215.0 207.2,211.2 217.2,206.3 229.7,200.0 239.6,197.5 249.6,196.3 259.6,193.0 269.6,189.8 279.6,186.0 289.6,179.8 299.6,169.8 309.5,162.8 317.0,163.6 327.0,166.6 334.5,176.0 340.0,184.8 343.7,190.0 350.0,197.5 356.2,206.3 365.0,213.7 372.5,217.5 379.9,221.2 386.2,220.0 393.7,213.7 401.2,205.0 407.4,196.3 412.4,190.0 414.9,183.5 424.9,164.8 434.9,149.8 444.8,137.4 454.8,127.4 464.8,121.1 474.8,119.4 482.3,116.1 489.8,111.1 497.3,107.4 504.8,107.4 512.2,111.1 519.7,117.4 527.2,127.4 534.7,139.9 542.2,157.3 549.7,172.3 557.2,181.0 564.7,183.5 577.1,176.0 589.6,162.3 599.6,152.3 609.6,147.3 617.1,143.6 627.1,139.9 639.6,136.1 652.0,133.6 664.5,131.1 672.0,126.1 680.0,123.6 690.0,119.9 700.0,116.1 710.0,113.6 719.9,113.6 727.4,116.1 734.9,121.1 744.9,126.1 752.4,133.6 759.9,142.3 767.4,147.3 774.9,151.1 782.3,152.3 789.8,156.1 797.3,160.6 804.8,162.3 812.3,167.3 819.8,176.0 827.3,183.5 832.3,189.3 839.8,189.8 844.8,190.0 852.2,197.5 859.7,202.5 867.2,202.0 877.2,198.8 884.7,197.5 892.2,201.3 899.7,208.7 909.7,212.5 917.1,216.2 924.6,222.5 932.1,227.0 939.6,228.7 947.1,225.0 953.3,215.0 959.6,205.0 960.0,205.0 967.5,193.8 970.0,189.8 975.0,179.8 981.2,169.8 986.2,159.8 992.5,151.1 998.7,144.8 1004.9,143.1 1012.4,146.1 1021.2,149.8 1029.9,152.3 1039.9,152.8 1049.9,152.3 1057.4,151.1 1064.8,152.3 1072.3,155.3 1079.8,156.1 1084.8,163.6 1089.8,173.5 1096.0,182.3 1101.0,190.0 1107.3,200.0 1113.5,213.7 1119.8,220.0 1126.0,226.2 1132.2,232.5 1138.5,241.2 1144.7,251.2 1151.0,257.9 1157.2,260.7 1164.7,257.4 1172.2,255.4 1179.7,255.4 1187.2,254.4 1194.6,248.7 1202.1,240.0 1209.6,231.2 1217.1,223.7 1224.6,218.7 1232.6,214.2" fill="none" stroke="#cc33ff" stroke-width="1" stroke-linejoin="round" shape-rendering="crispEdges"/>
<polyline points="141.0,333.6 149.8,329.8 156.0,326.1 162.3,319.8 167.2,309.8 172.2,297.4 177.2,287.4 183.5,277.4 189.7,262.4 194.7,248.7 199.7,236.2 203.4,232.5 212.2,231.2 217.2,235.0 222.2,239.5 227.2,240.7 232.2,236.2 239.6,231.2 247.1,227.5 252.1,225.0 259.6,222.5 268.3,221.2 272.1,222.5 277.1,227.5 282.1,231.2 288.3,232.0 293.3,225.0 299.6,215.0 301.8,208.5 305.3,201.0 309.0,193.8 311.3,193.3 313.5,197.3 317.8,199.5 322.3,200.3 325.3,204.0 329.8,209.7 334.5,222.5 340.0,249.9 348.7,263.7 355.0,261.2 365.0,254.9 374.9,251.9 382.4,251.2 387.4,253.7 391.2,257.9 396.2,252.4 404.9,243.7 412.4,248.7 417.4,247.4 424.9,236.2 428.6,222.5 434.9,207.5 439.9,195.0 442.3,189.8 447.3,174.8 453.6,157.3 459.8,146.1 467.3,139.9 474.8,137.4 481.0,137.9 486.0,144.8 489.8,151.1 497.3,148.6 503.5,149.3 509.7,154.8 514.7,164.8 519.7,179.8 523.5,190.0 528.5,205.0 533.5,232.5 537.2,254.9 540.9,263.7 545.9,259.9 552.2,249.9 559.7,241.2 567.2,240.0 574.6,242.4 580.9,235.0 587.1,227.5 590.9,215.0 594.6,200.0 598.4,189.8 602.1,182.3 608.3,167.3 614.6,158.6 622.1,156.1 629.6,156.1 637.1,158.6 644.5,158.6 652.0,153.6 662.0,147.3 672.0,141.1 680.0,137.4 690.0,136.1 700.0,138.6 710.0,138.1 719.9,137.4 726.2,139.9 732.4,152.3 738.7,164.8 744.9,179.8 748.6,190.0 756.1,192.5 759.9,194.5 764.9,191.3 767.4,189.3 774.9,187.3 784.8,188.5 791.1,190.0 797.3,191.3 802.3,192.5 807.3,198.8 812.3,207.5 817.3,217.5 823.5,230.0 829.8,233.7 834.8,228.7 839.8,222.5 846.0,225.0 852.2,233.7 859.7,235.0 867.2,232.5 877.2,230.0 882.2,229.5 889.4,229.7 893.9,234.2 898.2,241.7 904.2,250.4 911.7,254.7 915.9,259.2 920.4,268.2 922.6,270.9 927.9,269.7 933.6,264.4 939.6,261.4 944.1,263.7 947.1,269.7 951.3,278.4 954.6,281.6 958.3,282.9 959.6,282.1 960.0,281.1 966.2,273.6 971.2,262.4 976.2,244.9 981.2,227.5 986.2,212.5 990.0,200.0 993.7,189.8 998.7,178.5 1002.4,169.8 1006.2,173.5 1012.4,176.0 1019.9,182.3 1027.4,183.5 1037.4,182.3 1047.4,181.0 1056.1,181.0 1059.9,182.3 1063.6,190.0 1067.3,190.5 1074.8,196.3 1082.3,206.3 1087.3,216.2 1092.3,226.2 1097.3,237.5 1102.3,251.2 1107.3,264.9 1111.0,274.9 1116.0,277.4 1124.8,278.6 1134.7,277.9 1139.7,281.1 1143.5,289.9 1147.2,299.9 1152.2,303.6 1159.7,303.6 1169.7,301.9 1179.7,301.9 1189.7,299.9 1197.1,292.4 1202.1,279.9 1205.9,264.9 1209.6,255.4 1214.6,253.2 1220.9,254.4 1227.1,249.9 1232.6,247.4" fill="none" stroke="#cc33ff" stroke-width="1" stroke-linejoin="round" shape-rendering="crispEdges"/>
</g>
<g clip-path="url(#cr)">
<line x1="15" y1="378.5" x2="1297" y2="378.5" stroke="#ff0000" stroke-width="1"/>
<line x1="15" y1="407.5" x2="1297" y2="407.5" stroke="#ff0000" stroke-width="1"/>
<polyline points="15.0,399.9 17.5,394.9 22.5,394.9 27.5,391.9 31.2,390.7 36.2,392.4 39.9,396.2 43.7,392.9 48.7,392.4 52.4,391.2 57.4,387.5 61.2,388.7 64.9,381.2 69.9,378.7 74.9,380.0 79.9,378.7 83.6,377.5 87.4,378.7 94.9,377.5 99.9,377.0 104.8,373.7 108.6,376.2 111.1,375.0 114.8,381.2 118.6,380.0 122.3,372.5 126.1,375.0 129.8,378.0 136.0,377.5 139.8,381.2 143.5,376.2 148.5,373.7 153.5,372.0 156.0,375.0 162.3,373.0 164.8,377.5 169.7,377.0 173.5,385.0 177.2,388.0 182.2,383.7 187.2,383.0 192.2,386.2 196.0,389.2 199.7,384.5 207.2,383.7 212.2,382.5 215.9,378.7 219.7,376.2 223.4,380.0 228.4,383.7 232.2,389.9 235.9,396.2 240.9,393.7 245.9,391.9 249.6,392.4 252.6,394.9 255.9,388.7 259.6,386.2 263.4,383.7 267.1,385.0 272.1,381.2 275.8,377.5 279.6,381.2 284.6,382.0 287.1,380.0 290.8,383.7 294.6,386.2 298.3,384.5 303.3,385.0 307.0,392.4 310.8,399.9 313.3,401.2 317.0,396.2 319.5,394.4 323.3,398.7 327.0,401.2 330.8,403.7 334.5,408.7 337.5,411.9 340.0,407.4 343.7,401.2 347.5,398.7 351.2,393.7 355.0,393.7 358.7,396.2 362.5,399.9 366.2,397.4 370.0,394.9 374.9,392.4 379.9,389.9 387.4,388.7 391.2,381.2 394.9,382.0 398.7,382.5 402.4,387.5 407.4,381.2 412.4,380.0 417.4,378.7 423.6,377.5 429.9,378.0 436.1,383.7 441.1,380.0 444.8,382.5 448.6,380.0 453.6,386.2 458.6,386.2 464.8,392.4 468.6,389.4 472.3,389.9 478.5,388.7 482.3,385.0 487.3,377.0 491.0,381.2 494.8,387.5 499.8,392.4 503.5,391.2 507.2,396.2 512.2,399.9 517.2,404.9 522.2,408.7 526.0,402.4 529.7,401.9 533.5,404.9 537.2,406.2 540.9,399.9 544.7,395.7 549.7,394.9 553.4,396.2 558.4,391.2 563.4,387.0 568.4,385.5 572.2,387.5 575.9,391.2 583.4,389.4 589.6,391.9 592.1,392.9 599.6,389.9 605.9,389.4 610.8,391.2 615.8,390.4 620.8,386.2 627.1,383.7 633.3,383.0 639.6,380.5 642.5,387.5 645.8,387.5 649.5,391.2 653.3,386.2 659.5,391.9 664.5,387.5 668.3,382.5 672.0,386.2 675.7,390.7 680.0,389.9 683.7,388.7 687.5,386.2 691.2,389.9 693.7,391.2 697.5,386.2 702.5,383.7 707.5,382.5 710.0,386.2 712.5,396.2 716.2,397.4 719.9,393.7 723.7,396.2 728.7,399.9 732.4,397.4 736.2,394.4 739.9,398.7 742.4,403.7 746.2,404.9 749.4,407.9 752.4,403.7 754.9,399.9 758.6,403.7 762.4,396.2 766.1,392.4 769.9,394.4 774.9,392.4 779.9,387.5 782.3,394.9 786.1,397.4 792.3,398.7 797.3,397.9 802.3,399.4 806.1,403.7 811.1,407.9 816.0,404.9 819.8,402.9 823.5,403.7 827.3,397.4 832.3,393.7 837.3,393.7 842.3,392.4 844.8,399.9 847.7,397.9 851.7,404.4 854.7,399.9 859.7,397.9 864.7,397.4 868.5,391.2 872.2,392.4 876.0,389.4 879.7,391.2 884.7,396.2 889.7,396.9 893.4,401.2 897.2,402.9 900.9,400.7 904.7,401.9 910.9,401.9 914.6,401.2 918.4,403.7 921.6,404.9 924.6,397.4 928.4,391.2 933.4,387.5 938.4,391.9 942.1,387.5 947.1,380.0 952.1,378.0 957.1,378.0 962.1,376.2 968.3,375.5 974.6,375.0 975.0,375.0 978.7,381.2 982.0,386.2 985.0,381.2 988.7,383.7 992.5,383.7 996.2,387.5 999.9,393.7 1003.7,397.9 1007.4,394.9 1012.4,393.7 1016.9,396.2 1021.2,391.2 1026.2,385.5 1029.4,388.7 1033.6,386.2 1039.9,386.2 1044.9,389.9 1048.6,388.7 1052.4,386.2 1056.1,388.7 1059.9,401.2 1063.6,403.7 1068.6,404.9 1073.6,397.9 1077.3,399.9 1081.1,403.7 1084.8,406.9 1091.1,406.2 1094.8,408.7 1098.5,411.2 1103.5,411.9 1107.3,414.9 1111.0,416.2 1113.5,407.4 1116.8,398.7 1122.3,399.9 1127.2,397.9 1131.0,401.9 1136.0,404.9 1141.0,407.9 1146.0,410.4 1149.7,406.2 1154.7,397.4 1158.5,391.2 1162.2,389.2 1167.2,389.9 1170.9,391.9 1175.9,387.5 1179.7,391.9 1184.7,392.9 1189.7,389.9 1194.6,385.0 1199.6,387.0 1205.9,385.5 1210.9,380.5 1214.6,383.0 1220.9,380.0 1224.6,384.5 1228.3,385.0 1232.6,386.2" fill="none" stroke="#ff0000" stroke-width="1" stroke-linejoin="round" shape-rendering="crispEdges"/>
<polyline points="15.0,395.4 25.0,394.4 37.4,393.2 49.9,392.4 59.9,390.4 67.4,386.2 74.9,383.0 82.4,380.5 92.4,379.2 102.3,378.0 112.3,377.0 122.3,377.5 132.3,378.0 139.8,378.7 149.8,376.2 159.8,374.5 169.7,376.2 177.2,380.0 187.2,383.0 197.2,385.5 207.2,384.5 217.2,382.0 224.7,380.0 232.2,383.7 239.6,387.5 249.6,390.4 254.6,391.2 262.1,388.7 272.1,385.5 282.1,382.5 289.6,382.5 299.6,384.5 304.5,386.2 312.0,391.9 319.5,393.7 327.0,396.2 334.5,401.2 340.0,403.7 347.5,401.2 355.0,398.7 365.0,397.9 374.9,396.2 384.9,393.7 392.4,389.9 399.9,387.0 407.4,385.5 414.9,382.5 422.4,380.5 429.9,379.5 439.9,380.0 449.8,381.2 457.3,383.0 464.8,386.2 472.3,388.2 479.8,388.0 487.3,384.5 492.3,383.7 499.8,387.0 507.2,389.9 514.7,393.7 522.2,398.7 527.2,401.7 532.2,401.9 538.5,403.2 544.7,400.7 552.2,399.4 559.7,396.9 564.7,393.7 570.9,390.7 579.6,390.4 589.6,391.2 599.6,391.2 609.6,390.7 617.1,390.7 624.6,388.7 632.1,386.2 639.6,384.5 647.0,386.2 654.5,387.5 662.0,388.0 669.5,387.0 675.7,388.0 680.0,388.2 687.5,388.7 695.0,387.5 702.5,386.2 708.7,385.0 714.9,389.9 722.4,392.4 729.9,394.9 737.4,395.4 744.9,398.7 752.4,401.9 759.9,401.2 767.4,397.9 774.9,395.4 781.1,392.9 787.3,395.4 794.8,396.2 802.3,397.4 809.8,401.2 817.3,403.2 824.8,403.7 832.3,400.4 839.8,397.4 844.8,396.2 851.0,399.4 857.2,398.7 864.7,397.4 872.2,394.9 879.7,392.9 887.2,394.4 894.7,396.9 902.2,399.4 909.7,400.4 917.1,401.2 922.1,401.9 929.6,397.4 937.1,393.7 944.6,389.9 952.1,385.0 959.6,381.2 967.1,379.5 974.6,378.2 975.0,378.0 982.5,380.0 990.0,381.2 997.4,384.5 1004.9,389.9 1012.4,391.9 1019.9,392.9 1027.4,390.4 1034.9,388.7 1042.4,388.2 1049.9,388.0 1057.4,388.7 1064.8,394.4 1072.3,397.9 1079.8,399.9 1087.3,402.4 1094.8,404.9 1102.3,408.2 1111.0,411.2 1117.3,407.4 1124.8,403.7 1132.2,402.4 1139.7,404.4 1147.2,406.9 1154.7,403.7 1162.2,397.9 1169.7,394.9 1177.2,392.9 1184.7,392.4 1192.2,391.2 1199.6,389.2 1207.1,387.5 1214.6,385.5 1222.1,383.2 1228.3,384.5 1232.6,384.5" fill="none" stroke="#5533ff" stroke-width="1" stroke-linejoin="round" shape-rendering="crispEdges"/>
</g>
<g clip-path="url(#cs)">
<line x1="15" y1="467.5" x2="1297" y2="467.5" stroke="#0099ff" stroke-width="1"/>
<line x1="15" y1="495.5" x2="1297" y2="495.5" stroke="#0099ff" stroke-width="1"/>
<polyline points="15.0,491.0 20.0,489.8 25.0,477.3 30.0,464.8 33.7,462.3 37.4,468.6 41.2,479.8 44.9,487.3 48.7,482.3 52.4,471.1 56.2,463.6 59.9,462.3 64.9,463.6 69.9,461.1 74.9,459.8 79.9,463.6 84.9,471.1 89.9,467.3 94.9,466.1 99.9,469.8 104.8,471.1 109.8,467.3 114.8,469.8 119.8,476.1 124.8,471.1 128.6,467.3 132.3,469.8 137.3,473.6 142.3,473.6 147.3,467.3 152.3,461.1 157.3,462.3 162.3,464.8 167.2,466.8 172.2,472.3 177.2,484.8 182.2,493.5 186.0,489.8 189.7,479.8 193.5,474.8 197.2,479.8 199.7,483.6 203.4,474.8 207.2,464.8 210.9,462.3 214.7,464.8 219.7,462.3 224.7,462.3 228.4,467.3 232.2,482.3 235.9,493.5 238.4,496.8 242.1,493.5 247.1,484.8 250.9,477.3 254.6,476.1 259.6,473.6 263.4,463.6 267.1,461.1 272.1,462.3 277.1,462.3 280.8,464.8 284.6,472.3 289.6,479.8 294.6,487.3 298.3,488.5 302.0,484.8 305.8,486.1 309.5,492.3 313.3,498.5 317.0,497.3 320.8,491.0 324.5,486.1 328.3,489.8 332.0,496.0 335.7,498.5 340.0,497.3 343.7,491.0 347.5,479.8 351.2,469.8 355.0,464.8 358.7,464.8 361.2,472.3 365.0,486.1 368.7,491.0 372.5,484.8 376.2,473.6 379.9,464.8 384.9,462.3 392.4,461.8 399.9,462.8 404.9,467.3 408.6,471.1 412.4,466.1 417.4,461.8 423.6,462.3 428.6,467.3 433.6,471.1 439.9,476.1 444.8,472.3 449.8,470.3 453.6,473.6 457.3,482.3 461.1,491.0 466.1,495.3 469.8,491.0 474.8,481.1 479.8,471.1 484.8,463.6 489.0,461.1 492.8,466.1 496.0,476.1 499.8,487.3 503.5,494.8 507.2,495.3 512.2,492.3 516.0,493.5 519.7,498.5 523.5,499.3 526.7,493.5 529.7,486.1 533.5,478.6 537.2,479.8 540.9,484.8 544.2,482.3 547.7,473.6 550.9,466.8 554.7,464.8 558.4,466.1 563.4,462.3 568.4,460.3 572.2,463.6 575.9,472.3 579.6,481.1 583.4,484.8 587.1,481.1 590.9,478.6 594.6,481.1 598.4,483.6 602.1,477.3 605.9,469.8 609.1,468.6 612.1,474.8 615.8,482.3 619.1,481.1 623.3,472.3 627.1,466.1 630.8,463.6 635.8,464.8 639.6,466.8 643.3,473.6 647.0,484.8 650.8,493.5 654.5,491.0 659.5,484.8 664.5,483.6 668.3,477.3 673.3,471.8 677.0,479.8 680.0,486.1 683.7,493.5 687.5,488.5 692.5,479.8 697.5,477.3 702.5,468.6 707.5,463.6 711.2,468.6 714.9,482.3 718.7,494.8 722.4,496.0 727.4,492.3 732.4,488.5 737.4,479.8 741.2,477.3 744.9,482.3 748.6,493.5 752.4,494.3 756.1,487.3 759.9,482.3 764.9,474.8 768.6,466.1 772.4,464.3 776.1,466.1 779.9,464.3 783.6,469.8 787.3,484.8 791.1,496.0 794.8,498.5 802.3,496.0 807.3,497.3 812.3,498.0 817.3,493.5 822.3,486.1 827.3,478.6 832.3,471.1 837.3,464.8 841.0,464.3 844.8,471.1 849.7,482.3 854.7,491.0 858.5,488.5 862.2,481.1 867.2,474.8 872.2,469.8 876.0,464.8 879.7,464.8 883.4,471.1 887.2,484.8 890.9,497.3 894.7,500.3 902.2,500.3 907.2,498.5 912.2,496.0 917.1,489.8 920.9,491.0 924.6,488.5 928.4,477.3 932.1,463.6 935.9,459.8 939.6,466.1 943.4,466.8 947.1,461.1 952.1,459.3 957.1,459.8 960.0,461.1 965.0,461.1 971.2,463.6 976.2,469.8 980.0,478.6 985.0,484.8 990.0,481.1 994.9,478.6 998.7,484.8 1002.4,494.8 1006.2,499.8 1009.9,494.8 1013.7,487.3 1017.4,482.3 1022.4,479.8 1026.2,472.3 1029.9,464.8 1034.9,464.3 1039.9,466.1 1043.6,472.3 1047.4,478.6 1051.1,481.8 1054.9,477.3 1058.6,476.8 1062.3,484.8 1066.1,494.8 1071.1,498.5 1074.8,494.8 1081.1,488.5 1084.8,494.8 1088.6,499.8 1093.5,498.5 1099.8,496.0 1104.8,497.3 1109.8,499.8 1112.3,501.0 1116.0,492.3 1119.8,479.8 1123.5,471.1 1127.2,469.3 1131.0,476.1 1134.7,487.3 1139.7,496.0 1144.7,499.8 1148.5,499.3 1152.2,494.8 1156.0,482.3 1159.7,468.6 1163.4,461.8 1167.2,462.3 1170.9,468.6 1174.7,474.3 1179.7,474.3 1183.4,478.6 1187.2,483.6 1190.9,483.6 1194.6,477.3 1198.4,468.6 1202.1,466.8 1205.9,471.1 1209.6,468.6 1214.6,464.8 1219.6,463.6 1224.6,467.3 1228.3,479.8 1232.6,489.8" fill="none" stroke="#ff3300" stroke-width="1" stroke-linejoin="round" shape-rendering="crispEdges"/>
<polyline points="17.7,492.5 20.3,482.2 23.0,475.5 25.7,467.4 28.4,462.0 31.1,458.1 33.7,465.3 36.4,473.0 39.1,482.5 41.8,491.5 44.5,486.8 47.1,480.6 49.8,469.1 52.5,463.6 55.2,461.6 57.9,461.7 60.5,463.7 63.2,464.0 65.9,461.5 68.6,460.5 71.3,458.9 73.9,460.5 76.6,462.0 79.3,466.4 82.0,474.6 84.7,469.5 87.3,466.4 90.0,466.3 92.7,465.0 95.4,468.8 98.1,470.7 100.7,471.6 103.4,471.1 106.1,466.7 108.8,467.2 111.5,468.4 114.1,472.0 116.8,479.4 119.5,474.2 122.2,471.0 124.9,466.4 127.5,467.2 130.2,470.2 132.9,472.8 135.6,474.5 138.3,474.7 140.9,473.1 143.6,468.6 146.3,465.2 149.0,459.7 151.7,461.0 154.3,461.9 157.0,463.5 159.7,465.1 162.4,465.7 165.1,466.3 167.7,469.5 170.4,472.7 173.1,481.8 175.8,487.7 178.5,494.7 181.1,494.7 183.8,490.9 186.5,479.2 189.2,474.4 191.9,473.3 194.5,480.1 197.2,489.8 199.9,477.3 202.6,469.1 205.3,461.6 207.9,460.3 210.6,464.7 213.3,465.3 216.0,462.3 218.7,462.0 221.3,460.4 224.0,462.6 226.7,468.0 229.4,483.7 232.1,491.9 234.7,499.5 237.4,497.2 240.1,493.7 242.8,487.9 245.5,483.1 248.1,474.4 250.8,476.6 253.5,475.4 256.2,476.9 258.9,468.4 261.5,460.5 264.2,459.6 266.9,461.6 269.6,462.8 272.3,462.1 274.9,461.7 277.6,462.5 280.3,469.0 283.0,474.5 285.7,478.0 288.3,482.0 291.0,487.5 293.7,489.3 296.4,489.6 299.1,482.9 301.7,484.1 304.4,486.9 307.1,492.7 309.8,499.8 312.5,499.8 315.1,497.7 317.8,490.9 320.5,485.6 323.2,485.1 325.9,489.1 328.5,496.1 331.2,498.4 333.9,499.5 336.6,499.4 339.3,495.6 341.9,490.1 344.6,479.8 347.3,471.8 350.0,466.4 352.7,462.7 355.3,460.7 358.0,468.3 360.7,481.8 363.4,490.2 366.1,496.6 368.7,488.1 371.4,480.6 374.1,471.2 376.8,463.1 379.5,463.1 382.1,461.6 384.8,462.1 387.5,461.9 390.2,461.6 392.9,462.3 395.5,462.1 398.2,462.8 400.9,466.0 403.6,469.1 406.3,474.6 408.9,466.5 411.6,464.2 414.3,460.7 417.0,461.8 419.7,461.3 422.3,462.9 425.0,466.7 427.7,468.8 430.4,470.6 433.1,472.8 435.7,476.3 438.4,476.7 441.1,472.7 443.8,471.4 446.5,468.8 449.1,470.5 451.8,473.9 454.5,482.0 457.2,489.7 459.9,493.6 462.5,497.1 465.2,494.8 467.9,490.7 470.6,484.1 473.3,478.8 475.9,472.9 478.6,468.4 481.3,463.6 484.0,461.6 486.7,458.3 489.3,462.7 492.0,471.2 494.7,480.4 497.4,489.6 500.1,495.8 502.7,496.5 505.4,495.7 508.1,492.4 510.8,491.6 513.5,492.0 516.1,498.7 518.8,500.6 521.5,500.8 524.2,494.5 526.9,485.6 529.5,478.6 532.2,476.8 534.9,478.7 537.6,486.8 540.3,486.0 542.9,480.1 545.6,471.6 548.3,464.0 551.0,464.4 553.7,465.2 556.3,467.2 559.0,463.4 561.7,461.5 564.4,459.7 567.1,460.0 569.7,461.7 572.4,470.5 575.1,477.5 577.8,483.6 580.5,488.0 583.1,482.4 585.8,479.6 588.5,476.5 591.2,480.6 593.9,483.7 596.5,485.1 599.2,478.2 601.9,470.8 604.6,466.4 607.3,467.2 609.9,476.0 612.6,484.8 615.3,484.2 618.0,479.1 620.7,471.6 623.3,466.7 626.0,463.9 628.7,462.4 631.4,464.2 634.1,465.0 636.7,464.5 639.4,470.1 642.1,477.2 644.8,486.8 647.5,496.3 650.1,493.9 652.8,490.5 655.5,485.5 658.2,483.5 660.9,485.5 663.5,481.4 666.2,475.8 668.9,471.4 671.6,470.2 674.3,479.8 676.9,485.4 679.6,493.6 682.3,495.3 685.0,489.0 687.7,483.1 690.3,477.7 693.0,479.0 695.7,477.3 698.4,470.4 701.1,466.6 703.7,462.0 706.4,463.1 709.1,467.2 711.8,481.0 714.5,492.1 717.1,498.5 719.8,498.0 722.5,494.0 725.2,492.0 727.9,490.5 730.5,488.5 733.2,481.6 735.9,477.7 738.6,473.8 741.3,479.0 743.9,487.6 746.6,497.7 749.3,497.5 752.0,490.2 754.7,485.2 757.3,482.4 760.0,478.4 762.7,474.9 765.4,464.6 768.1,463.7 770.7,463.8 773.4,467.8 776.1,462.7 778.8,464.3 781.5,468.2 784.1,484.2 786.8,493.4 789.5,499.4 792.2,500.4 794.9,497.6 797.5,496.5 800.2,495.3 802.9,496.9 805.6,497.6 808.3,498.8 810.9,497.9 813.6,495.1 816.3,491.4 819.0,487.0 821.7,483.0 824.3,479.0 827.0,474.9 829.7,470.5 832.4,467.2 835.1,463.0 837.7,461.6 840.4,467.0 843.1,472.9 845.8,479.9 848.5,485.2 851.1,492.4 853.8,492.1 856.5,489.0 859.2,480.6 861.9,478.0 864.5,474.4 867.2,472.2 869.9,469.9 872.6,463.9 875.3,463.1 877.9,464.3 880.6,467.3 883.3,480.5 886.0,490.7 888.7,501.6 891.3,500.9 894.0,500.7 896.7,500.3 899.4,500.9 902.1,499.4 904.7,498.7 907.4,497.4 910.1,496.3 912.8,490.8 915.5,488.3 918.1,492.8 920.8,491.9 923.5,486.0 926.2,476.6 928.9,461.8 931.5,458.5 934.2,458.5 936.9,468.7 939.6,468.6 942.3,465.3 944.9,459.1 947.6,459.7 950.3,458.9 953.0,459.4 955.7,460.4 958.3,461.6 961.0,460.7 963.7,461.3 966.4,462.4 969.1,462.9 971.7,466.9 974.4,470.5 977.1,480.0 979.8,482.1 982.5,488.2 985.1,482.6 987.8,480.4 990.5,478.1 993.2,477.4 995.9,482.8 998.5,492.8 1001.2,498.6 1003.9,503.5 1006.6,496.6 1009.3,490.6 1011.9,485.2 1014.6,481.0 1017.3,481.2 1020.0,481.9 1022.7,474.0 1025.3,467.5 1028.0,462.3 1030.7,464.1 1033.4,464.3 1036.1,464.3 1038.7,467.6 1041.4,473.1 1044.1,478.7 1046.8,482.2 1049.5,483.0 1052.1,475.4 1054.8,474.4 1057.5,478.2 1060.2,485.4 1062.9,496.2 1065.5,497.1 1068.2,501.5 1070.9,496.3 1073.6,493.4 1076.3,489.7 1078.9,485.5 1081.6,494.4 1084.3,499.0 1087.0,501.3 1089.7,499.0 1092.3,498.1 1095.0,496.6 1097.7,495.2 1100.4,496.7 1103.1,497.5 1105.7,499.1 1108.4,503.4 1111.1,500.2 1113.8,492.4 1116.5,480.4 1119.1,473.3 1121.8,468.4 1124.5,465.2 1127.2,472.6 1129.9,480.2 1132.5,490.1 1135.2,493.4 1137.9,498.0 1140.6,499.4 1143.3,500.6 1145.9,501.0 1148.6,498.5 1151.3,490.4 1154.0,480.2 1156.7,466.9 1159.3,462.2 1162.0,459.9 1164.7,460.0 1167.4,467.3 1170.1,472.2 1172.7,476.4 1175.4,473.4 1178.1,474.3 1180.8,478.3 1183.5,483.7 1186.1,485.2 1188.8,485.0 1191.5,479.1 1194.2,470.9 1196.9,465.9 1199.5,464.0 1202.2,472.1 1204.9,471.2 1207.6,468.2 1210.3,465.7 1212.9,464.0 1215.6,463.0 1218.3,463.7 1221.0,463.5 1223.7,471.9 1226.3,482.8 1230.0,491.0 1232.6,494.8" fill="none" stroke="#0099ff" stroke-width="1" stroke-linejoin="round" shape-rendering="crispEdges"/>
</g>
<g clip-path="url(#cd)">
<line x1="15" y1="544.5" x2="1297" y2="544.5" stroke="#e6e600" stroke-width="1"/>
<polyline points="15.0,545.0 25.0,544.5 49.9,544.2 59.9,542.0 69.9,538.2 79.9,536.2 94.9,535.5 109.8,535.0 124.8,534.2 139.8,533.2 149.8,532.0 159.8,530.5 169.7,530.8 179.7,533.8 189.7,535.5 199.7,536.2 212.2,536.8 224.7,535.5 234.6,538.0 244.6,540.8 254.6,542.0 264.6,540.5 274.6,538.0 287.1,536.8 299.6,538.0 309.5,542.0 319.5,543.8 329.5,547.5 340.0,552.5 350.0,551.8 360.0,549.5 370.0,548.0 379.9,546.2 387.4,544.5 392.4,541.2 402.4,538.8 412.4,536.2 422.4,535.0 432.4,534.5 444.8,535.0 454.8,535.5 464.8,537.5 472.3,539.2 481.0,540.0 489.8,536.2 497.3,536.8 504.8,540.0 512.2,543.0 518.5,546.2 523.5,551.2 529.7,553.0 536.0,556.2 539.7,556.8 544.7,554.5 552.2,552.0 559.7,548.8 567.2,543.8 572.2,542.5 579.6,542.5 587.1,541.2 594.6,542.5 604.6,542.5 614.6,542.5 624.6,541.2 634.6,540.8 644.5,540.5 654.5,541.8 664.5,541.2 674.5,540.8 680.0,541.2 695.0,541.5 702.5,540.0 708.7,539.2 714.9,541.8 724.9,542.5 732.4,545.0 742.4,546.2 751.1,550.5 759.9,550.5 769.9,547.5 779.9,545.0 789.8,545.5 799.8,547.0 807.3,548.8 814.8,551.2 824.8,551.8 832.3,550.0 839.8,547.5 847.2,547.5 854.7,549.2 862.2,549.5 869.7,547.0 877.2,545.0 887.2,544.5 894.7,546.2 902.2,548.8 909.7,550.8 919.6,550.8 927.1,548.8 934.6,545.5 942.1,544.2 949.6,538.8 957.1,536.2 960.0,536.2 967.5,533.8 975.0,533.2 982.5,534.5 990.0,535.5 997.4,535.8 1003.7,540.0 1009.9,542.5 1019.9,543.0 1024.9,542.5 1032.4,541.2 1039.9,540.8 1049.9,541.2 1059.9,541.8 1064.8,545.0 1072.3,547.0 1079.8,547.5 1087.3,550.0 1094.8,551.8 1102.3,553.8 1107.3,555.0 1112.3,556.8 1117.3,554.5 1122.3,553.0 1128.5,551.2 1134.7,552.5 1142.2,552.5 1147.2,554.2 1154.7,554.2 1159.7,551.2 1164.7,548.0 1172.2,545.5 1179.7,545.0 1187.2,544.5 1194.6,542.5 1202.1,541.2 1209.6,540.0 1217.1,538.8 1224.6,538.2 1232.6,538.2" fill="none" stroke="#e6e600" stroke-width="1" stroke-linejoin="round" shape-rendering="crispEdges"/>
<polyline points="15.0,542.5 22.5,544.5 49.9,544.2 62.4,543.2 72.4,540.0 84.9,537.0 99.9,535.8 114.8,535.0 129.8,534.5 144.8,533.8 154.8,532.0 164.8,530.8 174.7,531.2 184.7,533.8 194.7,535.0 207.2,536.2 219.7,535.5 232.2,536.2 242.1,538.8 252.1,540.5 262.1,540.8 272.1,539.5 282.1,537.5 294.6,537.5 304.5,538.0 314.5,540.8 324.5,543.0 334.5,545.5 340.0,548.8 350.0,549.5 360.0,549.5 370.0,548.8 379.9,547.5 389.9,546.2 397.4,543.8 407.4,540.8 417.4,538.0 427.4,536.2 437.4,535.0 447.3,535.0 457.3,535.5 467.3,536.8 477.3,538.2 487.3,538.2 497.3,537.5 507.2,538.8 514.7,540.8 522.2,545.0 529.7,548.8 537.2,551.8 544.7,553.0 552.2,552.5 559.7,551.2 567.2,548.8 574.6,546.2 582.1,544.2 589.6,543.2 599.6,542.5 609.6,542.5 619.6,542.5 629.6,542.0 639.6,541.2 649.5,541.2 659.5,541.8 669.5,541.5 680.0,541.5 695.0,541.5 705.0,540.5 712.5,540.8 719.9,541.8 729.9,543.2 739.9,544.5 749.9,547.5 759.9,549.5 767.4,549.2 777.4,547.0 787.3,545.8 797.3,546.8 804.8,547.5 812.3,549.2 822.3,550.8 829.8,550.8 837.3,549.2 844.8,548.2 852.2,548.8 859.7,549.5 867.2,548.2 874.7,546.8 884.7,545.5 892.2,545.8 899.7,547.5 907.2,549.2 917.1,550.0 927.1,549.5 934.6,547.5 942.1,546.2 949.6,543.8 957.1,540.0 960.0,538.8 967.5,536.8 975.0,535.5 985.0,535.0 994.9,535.8 1004.9,538.0 1014.9,540.0 1024.9,542.5 1034.9,541.8 1047.4,541.8 1059.9,541.8 1067.3,543.0 1074.8,545.0 1082.3,546.8 1089.8,548.8 1097.3,550.0 1104.8,552.0 1112.3,553.2 1122.3,553.0 1132.2,552.0 1142.2,552.5 1149.7,553.2 1157.2,553.0 1164.7,551.2 1172.2,549.2 1179.7,547.0 1187.2,545.5 1194.6,543.8 1202.1,543.2 1209.6,541.8 1217.1,540.5 1224.6,539.5 1232.6,539.2" fill="none" stroke="#00ccff" stroke-width="1" stroke-linejoin="round" shape-rendering="crispEdges"/>
</g>
<rect x="0" y="0" width="1362" height="1.5" fill="#808080"/>
<rect x="0" y="0" width="1" height="611" fill="#a8a8a8"/>
<rect x="1" y="0" width="1" height="611" fill="#666"/>
<rect x="1360" y="0" width="2" height="611" fill="#707070"/>
<text x="10.3" y="16.0" fill="#c6c9cc" font-size="11" font-weight="bold" textLength="169.6" lengthAdjust="spacingAndGlyphs">Hourly [.KSE List 1 of 101] .KSE</text>
<text x="1123.5" y="16.0" fill="#cdcdcd" font-size="11" textLength="36.5" lengthAdjust="spacingAndGlyphs">3:00 PM</text>
<text x="1166.1" y="16.0" fill="#cdcdcd" font-size="11" textLength="53.2" lengthAdjust="spacingAndGlyphs">12/23/2016</text>
<text x="1225.3" y="16.0" fill="#cdcdcd" font-size="11" textLength="3.2" lengthAdjust="spacingAndGlyphs">-</text>
<text x="1232.4" y="16.0" fill="#cdcdcd" font-size="11" textLength="42.6" lengthAdjust="spacingAndGlyphs">12:00 PM</text>
<text x="1279" y="16.0" fill="#cdcdcd" font-size="11" textLength="48.3" lengthAdjust="spacingAndGlyphs">3/29/2017</text>
<text x="1332.2" y="16.0" fill="#cdcdcd" font-size="11" textLength="23.8" lengthAdjust="spacingAndGlyphs">(KHI)</text>
<line x1="35" y1="22.5" x2="1277" y2="22.5" stroke="#4a4a4a" stroke-width="1"/>
<text x="22" y="34.5" fill="#ff0000" font-size="11.5" textLength="113" lengthAdjust="spacingAndGlyphs">Cndl, .KSE, Trade Price,</text>
<text x="141" y="34.5" fill="#ff0000" font-size="11.5" textLength="94" lengthAdjust="spacingAndGlyphs">4:00 PM 3/22/2017,</text>
<text x="240" y="34.5" fill="#ff0000" font-size="11.5" textLength="52" lengthAdjust="spacingAndGlyphs">49,040.92,</text>
<text x="297" y="34.5" fill="#ff0000" font-size="11.5" textLength="52" lengthAdjust="spacingAndGlyphs">49,063.76,</text>
<text x="353.8" y="34.5" fill="#ff0000" font-size="11.5" textLength="52.2" lengthAdjust="spacingAndGlyphs">48,973.93,</text>
<text x="411" y="34.5" fill="#ff0000" font-size="11.5" textLength="52.5" lengthAdjust="spacingAndGlyphs">48,986.87,</text>
<text x="468" y="34.5" fill="#8c8c8c" font-size="11.5" textLength="21.3" lengthAdjust="spacingAndGlyphs">N/A,</text>
<text x="493" y="34.5" fill="#8c8c8c" font-size="11.5" textLength="21.3" lengthAdjust="spacingAndGlyphs">N/A,</text>
<text x="518" y="34.5" fill="#cc33ff" font-size="11.5" textLength="152" lengthAdjust="spacingAndGlyphs">BBand, .KSE, Trade Price(Last),</text>
<text x="676" y="34.5" fill="#cc33ff" font-size="11.5" textLength="72.8" lengthAdjust="spacingAndGlyphs">20, Simple, 2.0,</text>
<text x="756" y="34.5" fill="#cc33ff" font-size="11.5" textLength="93.7" lengthAdjust="spacingAndGlyphs">4:00 PM 3/22/2017,</text>
<text x="855" y="34.5" fill="#cc33ff" font-size="11.5" textLength="50.5" lengthAdjust="spacingAndGlyphs">49,230.43,</text>
<text x="911.9" y="34.5" fill="#cc33ff" font-size="11.5" textLength="50.4" lengthAdjust="spacingAndGlyphs">48,837.33,</text>
<text x="968.7" y="34.5" fill="#cc33ff" font-size="11.5" textLength="49.7" lengthAdjust="spacingAndGlyphs">48,444.23</text>
<line x1="2" y1="334.5" x2="14.5" y2="334.5" stroke="#555" stroke-width="1"/>
<line x1="35" y1="334.5" x2="1277" y2="334.5" stroke="#555" stroke-width="1"/>
<line x1="1297.5" y1="334.5" x2="1360" y2="334.5" stroke="#777" stroke-width="1"/>
<line x1="2" y1="436.5" x2="1360" y2="436.5" stroke="#555" stroke-width="1"/>
<line x1="2" y1="510.5" x2="1360" y2="510.5" stroke="#555" stroke-width="1"/>
<line x1="14.5" y1="334" x2="14.5" y2="562" stroke="#555" stroke-width="1"/>
<line x1="1297.5" y1="334" x2="1297.5" y2="562" stroke="#555" stroke-width="1"/>
<line x1="14.5" y1="561.5" x2="1298" y2="561.5" stroke="#555" stroke-width="1"/>
<defs><linearGradient id="bg1" x1="0" y1="0" x2="0" y2="1"><stop offset="0" stop-color="#ffffff"/><stop offset="1" stop-color="#d4d4d4"/></linearGradient></defs>
<rect x="1329.5" y="24.5" width="12" height="12" rx="2" fill="url(#bg1)" stroke="#8294b4" stroke-width="1"/>
<rect x="1330.5" y="25.5" width="10" height="10" rx="1" fill="none" stroke="#39445f" stroke-width="1"/>
<rect x="1333.5" y="29.5" width="4" height="2.5" fill="#8aa4dc" stroke="#27386e" stroke-width="1"/>
<rect x="1344.5" y="24.5" width="12" height="12" rx="2" fill="#e2705a" stroke="#5a1628" stroke-width="1.2"/>
<path d="M1347 27L1354 34M1354 27L1347 34" stroke="#4a3a3a" stroke-width="3.6" fill="none"/>
<path d="M1347 27L1354 34M1354 27L1347 34" stroke="#ffffff" stroke-width="2.3" fill="none"/>
<rect x="1329.5" y="338.5" width="12" height="12" rx="2" fill="url(#bg1)" stroke="#8294b4" stroke-width="1"/>
<rect x="1330.5" y="339.5" width="10" height="10" rx="1" fill="none" stroke="#39445f" stroke-width="1"/>
<rect x="1333.5" y="343.5" width="4" height="2.5" fill="#8aa4dc" stroke="#27386e" stroke-width="1"/>
<rect x="1344.5" y="338.5" width="12" height="12" rx="2" fill="#e2705a" stroke="#5a1628" stroke-width="1.2"/>
<path d="M1347 341L1354 348M1354 341L1347 348" stroke="#4a3a3a" stroke-width="3.6" fill="none"/>
<path d="M1347 341L1354 348M1354 341L1347 348" stroke="#ffffff" stroke-width="2.3" fill="none"/>
<rect x="1329.5" y="440.5" width="12" height="12" rx="2" fill="url(#bg1)" stroke="#8294b4" stroke-width="1"/>
<rect x="1330.5" y="441.5" width="10" height="10" rx="1" fill="none" stroke="#39445f" stroke-width="1"/>
<rect x="1333.5" y="445.5" width="4" height="2.5" fill="#8aa4dc" stroke="#27386e" stroke-width="1"/>
<rect x="1344.5" y="440.5" width="12" height="12" rx="2" fill="#e2705a" stroke="#5a1628" stroke-width="1.2"/>
<path d="M1347 443L1354 450M1354 443L1347 450" stroke="#4a3a3a" stroke-width="3.6" fill="none"/>
<path d="M1347 443L1354 450M1354 443L1347 450" stroke="#ffffff" stroke-width="2.3" fill="none"/>
<rect x="1329.5" y="513.5" width="12" height="12" rx="2" fill="url(#bg1)" stroke="#8294b4" stroke-width="1"/>
<rect x="1330.5" y="514.5" width="10" height="10" rx="1" fill="none" stroke="#39445f" stroke-width="1"/>
<rect x="1333.5" y="518.5" width="4" height="2.5" fill="#8aa4dc" stroke="#27386e" stroke-width="1"/>
<rect x="1344.5" y="513.5" width="12" height="12" rx="2" fill="#e2705a" stroke="#5a1628" stroke-width="1.2"/>
<path d="M1347 516L1354 523M1354 516L1347 523" stroke="#4a3a3a" stroke-width="3.6" fill="none"/>
<path d="M1347 516L1354 523M1354 516L1347 523" stroke="#ffffff" stroke-width="2.3" fill="none"/>
<text x="1303" y="49.9" fill="#000" font-size="11" font-weight="bold" textLength="27.5" lengthAdjust="spacingAndGlyphs">Price</text>
<text x="1302.5" y="65.1" fill="#000" font-size="11" font-weight="bold" textLength="21.6" lengthAdjust="spacingAndGlyphs">PKR</text>
<line x1="1298" y1="80.5" x2="1302.8" y2="80.5" stroke="#000" stroke-width="1"/>
<text x="1305.2" y="84.7" fill="#000" font-size="11" textLength="32.7" lengthAdjust="spacingAndGlyphs">50,400</text>
<line x1="1298" y1="105.5" x2="1302.8" y2="105.5" stroke="#000" stroke-width="1"/>
<text x="1305.2" y="110.32000000000001" fill="#000" font-size="11" textLength="32.7" lengthAdjust="spacingAndGlyphs">50,100</text>
<line x1="1298" y1="131.5" x2="1302.8" y2="131.5" stroke="#000" stroke-width="1"/>
<text x="1305.2" y="135.94" fill="#000" font-size="11" textLength="32.7" lengthAdjust="spacingAndGlyphs">49,800</text>
<line x1="1298" y1="157.5" x2="1302.8" y2="157.5" stroke="#000" stroke-width="1"/>
<text x="1305.2" y="161.56" fill="#000" font-size="11" textLength="32.7" lengthAdjust="spacingAndGlyphs">49,500</text>
<line x1="1298" y1="182.5" x2="1302.8" y2="182.5" stroke="#000" stroke-width="1"/>
<text x="1305.2" y="187.18" fill="#000" font-size="11" textLength="32.7" lengthAdjust="spacingAndGlyphs">49,200</text>
<line x1="1298" y1="208.5" x2="1302.8" y2="208.5" stroke="#000" stroke-width="1"/>
<text x="1305.2" y="212.8" fill="#000" font-size="11" textLength="32.7" lengthAdjust="spacingAndGlyphs">48,900</text>
<line x1="1298" y1="233.5" x2="1302.8" y2="233.5" stroke="#000" stroke-width="1"/>
<text x="1305.2" y="238.42000000000002" fill="#000" font-size="11" textLength="32.7" lengthAdjust="spacingAndGlyphs">48,600</text>
<line x1="1298" y1="259.5" x2="1302.8" y2="259.5" stroke="#000" stroke-width="1"/>
<text x="1305.2" y="264.04" fill="#000" font-size="11" textLength="32.7" lengthAdjust="spacingAndGlyphs">48,300</text>
<line x1="1298" y1="285.5" x2="1302.8" y2="285.5" stroke="#000" stroke-width="1"/>
<text x="1305.2" y="289.66" fill="#000" font-size="11" font-weight="bold" textLength="37.3" lengthAdjust="spacingAndGlyphs">48,000</text>
<line x1="1298" y1="310.5" x2="1302.8" y2="310.5" stroke="#000" stroke-width="1"/>
<text x="1305.2" y="315.28000000000003" fill="#000" font-size="11" textLength="32.7" lengthAdjust="spacingAndGlyphs">47,700</text>
<rect x="1297.8" y="174" width="61.200000000000045" height="12.800000000000011" fill="#cc33ff"/>
<text x="1298.6" y="184.3" fill="#000" font-size="11" textLength="48.8" lengthAdjust="spacingAndGlyphs">49,230.43</text>
<rect x="1297.8" y="195" width="61.200000000000045" height="12.800000000000011" fill="#ff0000"/>
<text x="1298.6" y="205.3" fill="#000" font-size="11" font-weight="bold" textLength="53.8" lengthAdjust="spacingAndGlyphs">48,986.87</text>
<rect x="1297.8" y="207.8" width="61.200000000000045" height="13.0" fill="#cc33ff"/>
<text x="1298.6" y="218.3" fill="#000" font-size="11" textLength="48.8" lengthAdjust="spacingAndGlyphs">48,837.33</text>
<rect x="1297.8" y="241.4" width="61.200000000000045" height="12.400000000000006" fill="#cc33ff"/>
<text x="1298.6" y="251.3" fill="#000" font-size="11" textLength="48.8" lengthAdjust="spacingAndGlyphs">48,444.23</text>
<rect x="1304.5" y="321.5" width="28" height="12" fill="#fff" stroke="#000" stroke-width="1"/>
<text x="1306.3" y="331.4" fill="#000" font-size="11" font-weight="bold" textLength="25" lengthAdjust="spacingAndGlyphs">Auto</text>
<text x="1303" y="364.3" fill="#c6c6c6" font-size="11" font-weight="bold" textLength="29" lengthAdjust="spacingAndGlyphs">Value</text>
<line x1="1298" y1="401.5" x2="1303" y2="401.5" stroke="#aaa" stroke-width="1"/>
<text x="1305.5" y="405.6" fill="#c6c6c6" font-size="11">40</text>
<line x1="1298" y1="429.5" x2="1303" y2="429.5" stroke="#aaa" stroke-width="1"/>
<rect x="1304.5" y="424" width="28" height="11" fill="#fff" stroke="#c6c6c6" stroke-width="1"/>
<text x="1306.3" y="433.8" fill="#c6c6c6" font-size="11" font-weight="bold" textLength="25" lengthAdjust="spacingAndGlyphs">Auto</text>
<rect x="1297.8" y="367.2" width="61.200000000000045" height="12.800000000000011" fill="#5533ff"/>
<text x="1298.6" y="377.5" fill="#000" font-size="11" textLength="33" lengthAdjust="spacingAndGlyphs">61.835</text>
<rect x="1297.8" y="380" width="61.200000000000045" height="12.800000000000011" fill="#ff0000"/>
<text x="1298.6" y="390.3" fill="#000" font-size="11" font-weight="bold" textLength="37" lengthAdjust="spacingAndGlyphs">58.785</text>
<text x="1303" y="466.3" fill="#c6c6c6" font-size="11" font-weight="bold" textLength="29" lengthAdjust="spacingAndGlyphs">Value</text>
<text x="1303" y="480.5" fill="#c6c6c6" font-size="11" font-weight="bold" textLength="21.6" lengthAdjust="spacingAndGlyphs">PKR</text>
<rect x="1304.5" y="498.5" width="28" height="11" fill="#fff" stroke="#c6c6c6" stroke-width="1"/>
<text x="1306.3" y="508.3" fill="#c6c6c6" font-size="11" font-weight="bold" textLength="25" lengthAdjust="spacingAndGlyphs">Auto</text>
<rect x="1297.8" y="475.2" width="61.200000000000045" height="12.800000000000011" fill="#ff3300"/>
<text x="1298.6" y="485.5" fill="#000" font-size="11" textLength="33" lengthAdjust="spacingAndGlyphs">33.042</text>
<rect x="1297.8" y="488" width="61.200000000000045" height="12.600000000000023" fill="#0099ff"/>
<text x="1298.6" y="498.1" fill="#000" font-size="11" font-weight="bold" textLength="37" lengthAdjust="spacingAndGlyphs">20.831</text>
<text x="1303" y="539.3" fill="#c6c6c6" font-size="11" font-weight="bold" textLength="29" lengthAdjust="spacingAndGlyphs">Value</text>
<rect x="1304.5" y="550.5" width="28" height="11" fill="#fff" stroke="#c6c6c6" stroke-width="1"/>
<text x="1306.3" y="560.3" fill="#c6c6c6" font-size="11" font-weight="bold" textLength="25" lengthAdjust="spacingAndGlyphs">Auto</text>
<rect x="1297.8" y="533.7" width="61.200000000000045" height="12.599999999999909" fill="#e6e600"/>
<text x="1298.6" y="543.8" fill="#000" font-size="11" font-weight="bold" textLength="37" lengthAdjust="spacingAndGlyphs">131.33</text>
<rect x="1297.8" y="546.3" width="61.200000000000045" height="12.700000000000045" fill="#00ccff"/>
<text x="1298.6" y="556.5" fill="#000" font-size="11" textLength="33" lengthAdjust="spacingAndGlyphs">121.09</text>
<text x="22" y="348.5" fill="#ff0000" font-size="11.5" textLength="139" lengthAdjust="spacingAndGlyphs">RSI, .KSE, Trade Price(Last),</text>
<text x="168.5" y="348.5" fill="#ff0000" font-size="11.5" textLength="101.5" lengthAdjust="spacingAndGlyphs">14, Wilder Smoothing,</text>
<text x="276.5" y="348.5" fill="#ff0000" font-size="11.5" textLength="94.5" lengthAdjust="spacingAndGlyphs">4:00 PM 3/22/2017,</text>
<text x="376" y="348.5" fill="#ff0000" font-size="11.5" textLength="35" lengthAdjust="spacingAndGlyphs">58.785,</text>
<text x="416.5" y="348.5" fill="#5533ff" font-size="11.5" textLength="76.0" lengthAdjust="spacingAndGlyphs">EMA, RSI(.KSE),</text>
<text x="501.5" y="348.5" fill="#5533ff" font-size="11.5" textLength="7.5" lengthAdjust="spacingAndGlyphs">9,</text>
<text x="515" y="348.5" fill="#5533ff" font-size="11.5" textLength="94" lengthAdjust="spacingAndGlyphs">4:00 PM 3/22/2017,</text>
<text x="615" y="348.5" fill="#5533ff" font-size="11.5" textLength="33.5" lengthAdjust="spacingAndGlyphs">61.835</text>
<text x="22" y="451" fill="#0099ff" font-size="11.5" textLength="124" lengthAdjust="spacingAndGlyphs">StochS, .KSE, Trade Price,</text>
<text x="155.5" y="451" fill="#0099ff" font-size="11.5" textLength="56.0" lengthAdjust="spacingAndGlyphs">5, 3, Simple,</text>
<text x="218.5" y="451" fill="#0099ff" font-size="11.5" textLength="7.5" lengthAdjust="spacingAndGlyphs">3,</text>
<text x="233" y="451" fill="#0099ff" font-size="11.5" textLength="93.5" lengthAdjust="spacingAndGlyphs">4:00 PM 3/22/2017,</text>
<text x="331.5" y="451" fill="#0099ff" font-size="11.5" textLength="36.0" lengthAdjust="spacingAndGlyphs">20.831,</text>
<text x="372.5" y="451" fill="#ff3300" font-size="11.5" textLength="33.5" lengthAdjust="spacingAndGlyphs">33.042</text>
<text x="22" y="523.5" fill="#e6e600" font-size="11.5" textLength="149" lengthAdjust="spacingAndGlyphs">MACD, .KSE, Trade Price(Last),</text>
<text x="179" y="523.5" fill="#e6e600" font-size="11.5" textLength="108.5" lengthAdjust="spacingAndGlyphs">12, 26, 9, Exponential,</text>
<text x="294" y="523.5" fill="#e6e600" font-size="11.5" textLength="93.5" lengthAdjust="spacingAndGlyphs">4:00 PM 3/22/2017,</text>
<text x="393.5" y="523.5" fill="#e6e600" font-size="11.5" textLength="35.0" lengthAdjust="spacingAndGlyphs">131.33,</text>
<text x="435" y="523.5" fill="#00ccff" font-size="11.5" textLength="32.5" lengthAdjust="spacingAndGlyphs">121.09</text>
<line x1="23.5" y1="562" x2="23.5" y2="565.5" stroke="#000" stroke-width="1"/>
<text x="24.5" y="575.7" fill="#000" font-size="11" text-anchor="middle">26</text>
<line x1="43.5" y1="562" x2="43.5" y2="565.5" stroke="#000" stroke-width="1"/>
<text x="44.5" y="575.7" fill="#000" font-size="11" text-anchor="middle">27</text>
<line x1="63.5" y1="562" x2="63.5" y2="565.5" stroke="#000" stroke-width="1"/>
<text x="64.5" y="575.7" fill="#000" font-size="11" text-anchor="middle">28</text>
<text x="82.5" y="575.7" fill="#000" font-size="11" text-anchor="middle">29</text>
<line x1="103.5" y1="562" x2="103.5" y2="565.5" stroke="#000" stroke-width="1"/>
<text x="104.5" y="575.7" fill="#000" font-size="11" text-anchor="middle">30</text>
<line x1="119.5" y1="562" x2="119.5" y2="565.5" stroke="#000" stroke-width="1"/>
<line x1="139.5" y1="562" x2="139.5" y2="565.5" stroke="#000" stroke-width="1"/>
<text x="140.5" y="575.7" fill="#000" font-size="11" text-anchor="middle">03</text>
<line x1="159.5" y1="562" x2="159.5" y2="565.5" stroke="#000" stroke-width="1"/>
<text x="160.5" y="575.7" fill="#000" font-size="11" text-anchor="middle">04</text>
<line x1="179.5" y1="562" x2="179.5" y2="565.5" stroke="#000" stroke-width="1"/>
<text x="180.5" y="575.7" fill="#000" font-size="11" text-anchor="middle">05</text>
<line x1="199.5" y1="562" x2="199.5" y2="565.5" stroke="#000" stroke-width="1"/>
<text x="200.5" y="575.7" fill="#000" font-size="11" text-anchor="middle">06</text>
<line x1="235.5" y1="562" x2="235.5" y2="565.5" stroke="#000" stroke-width="1"/>
<text x="236.56" y="575.7" fill="#000" font-size="11" text-anchor="middle">10</text>
<line x1="255.5" y1="562" x2="255.5" y2="565.5" stroke="#000" stroke-width="1"/>
<text x="256.56" y="575.7" fill="#000" font-size="11" text-anchor="middle">11</text>
<line x1="275.5" y1="562" x2="275.5" y2="565.5" stroke="#000" stroke-width="1"/>
<text x="276.56" y="575.7" fill="#000" font-size="11" text-anchor="middle">12</text>
<line x1="295.5" y1="562" x2="295.5" y2="565.5" stroke="#000" stroke-width="1"/>
<text x="296.56" y="575.7" fill="#000" font-size="11" text-anchor="middle">13</text>
<line x1="331.5" y1="562" x2="331.5" y2="565.5" stroke="#000" stroke-width="1"/>
<text x="332.62" y="575.7" fill="#000" font-size="11" text-anchor="middle">17</text>
<line x1="351.5" y1="562" x2="351.5" y2="565.5" stroke="#000" stroke-width="1"/>
<text x="352.62" y="575.7" fill="#000" font-size="11" text-anchor="middle">18</text>
<line x1="371.5" y1="562" x2="371.5" y2="565.5" stroke="#000" stroke-width="1"/>
<text x="372.62" y="575.7" fill="#000" font-size="11" text-anchor="middle">19</text>
<line x1="391.5" y1="562" x2="391.5" y2="565.5" stroke="#000" stroke-width="1"/>
<text x="392.62" y="575.7" fill="#000" font-size="11" text-anchor="middle">20</text>
<line x1="427.5" y1="562" x2="427.5" y2="565.5" stroke="#000" stroke-width="1"/>
<text x="428.68" y="575.7" fill="#000" font-size="11" text-anchor="middle">24</text>
<line x1="447.5" y1="562" x2="447.5" y2="565.5" stroke="#000" stroke-width="1"/>
<text x="448.68" y="575.7" fill="#000" font-size="11" text-anchor="middle">25</text>
<line x1="467.5" y1="562" x2="467.5" y2="565.5" stroke="#000" stroke-width="1"/>
<text x="468.68" y="575.7" fill="#000" font-size="11" text-anchor="middle">26</text>
<line x1="487.5" y1="562" x2="487.5" y2="565.5" stroke="#000" stroke-width="1"/>
<text x="488.68" y="575.7" fill="#000" font-size="11" text-anchor="middle">27</text>
<line x1="523.5" y1="562" x2="523.5" y2="565.5" stroke="#000" stroke-width="1"/>
<text x="524.74" y="575.7" fill="#000" font-size="11" text-anchor="middle">31</text>
<line x1="543.5" y1="562" x2="543.5" y2="565.5" stroke="#000" stroke-width="1"/>
<text x="544.74" y="575.7" fill="#000" font-size="11" text-anchor="middle">01</text>
<line x1="563.5" y1="562" x2="563.5" y2="565.5" stroke="#000" stroke-width="1"/>
<text x="564.74" y="575.7" fill="#000" font-size="11" text-anchor="middle">02</text>
<line x1="583.5" y1="562" x2="583.5" y2="565.5" stroke="#000" stroke-width="1"/>
<text x="584.74" y="575.7" fill="#000" font-size="11" text-anchor="middle">03</text>
<line x1="619.5" y1="562" x2="619.5" y2="565.5" stroke="#000" stroke-width="1"/>
<text x="620.8" y="575.7" fill="#000" font-size="11" text-anchor="middle">07</text>
<line x1="639.5" y1="562" x2="639.5" y2="565.5" stroke="#000" stroke-width="1"/>
<text x="640.8" y="575.7" fill="#000" font-size="11" text-anchor="middle">08</text>
<line x1="659.5" y1="562" x2="659.5" y2="565.5" stroke="#000" stroke-width="1"/>
<text x="660.8" y="575.7" fill="#000" font-size="11" text-anchor="middle">09</text>
<line x1="679.5" y1="562" x2="679.5" y2="565.5" stroke="#000" stroke-width="1"/>
<text x="680.8" y="575.7" fill="#000" font-size="11" text-anchor="middle">10</text>
<line x1="715.5" y1="562" x2="715.5" y2="565.5" stroke="#000" stroke-width="1"/>
<text x="716.86" y="575.7" fill="#000" font-size="11" text-anchor="middle">14</text>
<line x1="735.5" y1="562" x2="735.5" y2="565.5" stroke="#000" stroke-width="1"/>
<text x="736.86" y="575.7" fill="#000" font-size="11" text-anchor="middle">15</text>
<line x1="755.5" y1="562" x2="755.5" y2="565.5" stroke="#000" stroke-width="1"/>
<text x="756.86" y="575.7" fill="#000" font-size="11" text-anchor="middle">16</text>
<line x1="775.5" y1="562" x2="775.5" y2="565.5" stroke="#000" stroke-width="1"/>
<text x="776.86" y="575.7" fill="#000" font-size="11" text-anchor="middle">17</text>
<line x1="811.5" y1="562" x2="811.5" y2="565.5" stroke="#000" stroke-width="1"/>
<text x="812.9200000000001" y="575.7" fill="#000" font-size="11" text-anchor="middle">21</text>
<line x1="831.5" y1="562" x2="831.5" y2="565.5" stroke="#000" stroke-width="1"/>
<text x="832.9200000000001" y="575.7" fill="#000" font-size="11" text-anchor="middle">22</text>
<line x1="851.5" y1="562" x2="851.5" y2="565.5" stroke="#000" stroke-width="1"/>
<text x="852.9200000000001" y="575.7" fill="#000" font-size="11" text-anchor="middle">23</text>
<line x1="871.5" y1="562" x2="871.5" y2="565.5" stroke="#000" stroke-width="1"/>
<text x="872.9200000000001" y="575.7" fill="#000" font-size="11" text-anchor="middle">24</text>
<line x1="907.5" y1="562" x2="907.5" y2="565.5" stroke="#000" stroke-width="1"/>
<text x="908.98" y="575.7" fill="#000" font-size="11" text-anchor="middle">28</text>
<line x1="927.5" y1="562" x2="927.5" y2="565.5" stroke="#000" stroke-width="1"/>
<text x="928.98" y="575.7" fill="#000" font-size="11" text-anchor="middle">01</text>
<line x1="947.5" y1="562" x2="947.5" y2="565.5" stroke="#000" stroke-width="1"/>
<text x="948.98" y="575.7" fill="#000" font-size="11" text-anchor="middle">02</text>
<line x1="967.5" y1="562" x2="967.5" y2="565.5" stroke="#000" stroke-width="1"/>
<text x="968.98" y="575.7" fill="#000" font-size="11" text-anchor="middle">03</text>
<line x1="1004.5" y1="562" x2="1004.5" y2="565.5" stroke="#000" stroke-width="1"/>
<text x="1005.04" y="575.7" fill="#000" font-size="11" text-anchor="middle">07</text>
<line x1="1024.5" y1="562" x2="1024.5" y2="565.5" stroke="#000" stroke-width="1"/>
<text x="1025.04" y="575.7" fill="#000" font-size="11" text-anchor="middle">08</text>
<line x1="1044.5" y1="562" x2="1044.5" y2="565.5" stroke="#000" stroke-width="1"/>
<text x="1045.04" y="575.7" fill="#000" font-size="11" text-anchor="middle">09</text>
<line x1="1064.5" y1="562" x2="1064.5" y2="565.5" stroke="#000" stroke-width="1"/>
<text x="1065.04" y="575.7" fill="#000" font-size="11" text-anchor="middle">10</text>
<line x1="1100.5" y1="562" x2="1100.5" y2="565.5" stroke="#000" stroke-width="1"/>
<text x="1101.1" y="575.7" fill="#000" font-size="11" text-anchor="middle">14</text>
<line x1="1120.5" y1="562" x2="1120.5" y2="565.5" stroke="#000" stroke-width="1"/>
<text x="1121.1" y="575.7" fill="#000" font-size="11" text-anchor="middle">15</text>
<line x1="1140.5" y1="562" x2="1140.5" y2="565.5" stroke="#000" stroke-width="1"/>
<text x="1141.1" y="575.7" fill="#000" font-size="11" text-anchor="middle">16</text>
<line x1="1160.5" y1="562" x2="1160.5" y2="565.5" stroke="#000" stroke-width="1"/>
<text x="1161.1" y="575.7" fill="#000" font-size="11" text-anchor="middle">17</text>
<line x1="1196.5" y1="562" x2="1196.5" y2="565.5" stroke="#000" stroke-width="1"/>
<text x="1197.16" y="575.7" fill="#000" font-size="11" text-anchor="middle">21</text>
<line x1="1216.5" y1="562" x2="1216.5" y2="565.5" stroke="#000" stroke-width="1"/>
<text x="1217.16" y="575.7" fill="#000" font-size="11" text-anchor="middle">22</text>
<line x1="1236.5" y1="562" x2="1236.5" y2="565.5" stroke="#000" stroke-width="1"/>
<text x="1237.16" y="575.7" fill="#000" font-size="11" text-anchor="middle">24</text>
<line x1="1272.5" y1="562" x2="1272.5" y2="565.5" stroke="#000" stroke-width="1"/>
<text x="1273.8" y="575.7" fill="#000" font-size="11" text-anchor="middle">28</text>
<text x="1291" y="575.7" fill="#000" font-size="11" text-anchor="middle">29</text>
<line x1="119.5" y1="579" x2="119.5" y2="590.5" stroke="#000" stroke-width="1"/>
<line x1="543.5" y1="579" x2="543.5" y2="590.5" stroke="#000" stroke-width="1"/>
<line x1="927.5" y1="579" x2="927.5" y2="590.5" stroke="#000" stroke-width="1"/>
<text x="22.5" y="588.6" fill="#000" font-size="11" font-weight="bold" textLength="87.8" lengthAdjust="spacingAndGlyphs">December 2016</text>
<text x="292.5" y="588.6" fill="#000" font-size="11" font-weight="bold" textLength="76" lengthAdjust="spacingAndGlyphs">January 2017</text>
<text x="694" y="588.6" fill="#000" font-size="11" font-weight="bold" textLength="81" lengthAdjust="spacingAndGlyphs">February 2017</text>
<text x="1079.5" y="588.6" fill="#000" font-size="11" font-weight="bold" textLength="65" lengthAdjust="spacingAndGlyphs">March 2017</text>
<rect x="2" y="591.2" width="1358" height="16.4" fill="#f0f0f0"/>
<rect x="37.3" y="591.2" width="946.5" height="16.4" fill="#c8c8c8"/>
<rect x="4.5" y="592.5" width="14.5" height="14" rx="1.5" fill="url(#bg1)" stroke="#8a8a8a" stroke-width="1"/>
<path d="M11 595.3L7 599.3L11 603.3M16.5 595.3L12.5 599.3L16.5 603.3" stroke="#000" stroke-width="2.3" fill="none"/>
<path d="M30 595.8L26 599.4L30 603Z" fill="#606060"/>
<defs><linearGradient id="tg" x1="0" y1="0" x2="0" y2="1"><stop offset="0" stop-color="#f6f6f6"/><stop offset="0.45" stop-color="#eaeaea"/><stop offset="0.5" stop-color="#d8d8dc"/><stop offset="1" stop-color="#c8c8cc"/></linearGradient></defs>
<rect x="985.5" y="592.5" width="338.5" height="14" rx="2" fill="url(#tg)" stroke="#8a8a8a" stroke-width="1"/>
<rect x="1118" y="593.5" width="73" height="12" fill="#fff"/>
<text x="1119.5" y="603.3" fill="#000" font-size="10.5" textLength="70" lengthAdjust="spacingAndGlyphs" stroke="#000" stroke-width="0.25">455 Data Period</text>
<path d="M1331 595.8L1335 599.4L1331 603Z" fill="#606060"/>
<rect x="1343.5" y="592.5" width="14.5" height="14" rx="1.5" fill="url(#bg1)" stroke="#8a8a8a" stroke-width="1"/>
<path d="M1346 595.3L1350 599.3L1346 603.3M1351.5 595.3L1355.5 599.3L1351.5 603.3" stroke="#000" stroke-width="2.3" fill="none"/>
<rect x="0" y="609" width="1362" height="1" fill="#000"/>
<rect x="0" y="610" width="1362" height="1" fill="#44444c"/>
</svg>
</body></html>
